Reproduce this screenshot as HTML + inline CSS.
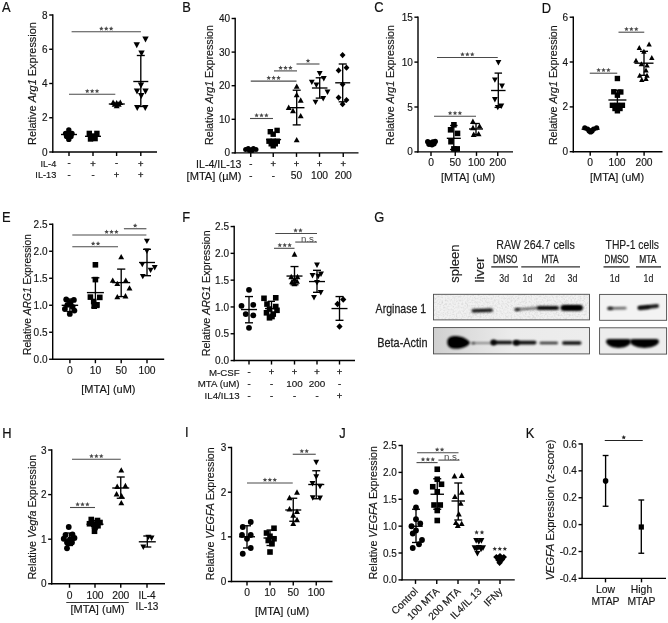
<!DOCTYPE html>
<html><head><meta charset="utf-8"><title>Figure</title>
<style>
html,body{margin:0;padding:0;background:#fff;}
body{width:668px;height:623px;overflow:hidden;}
svg{display:block;font-family:"Liberation Sans",sans-serif;filter:blur(0.3px);}
</style></head>
<body>
<svg width="668" height="623" viewBox="0 0 668 623">
<rect width="668" height="623" fill="#fff"/>
<g fill="#000">
<text transform="translate(2 12.3) scale(0.87 1)" font-size="14.8" text-anchor="start" fill="#111" stroke="#111" stroke-width="0.2">A</text>
<line x1="52.8" y1="14.3" x2="52.8" y2="152.7" stroke="#000" stroke-width="1.4" stroke-linecap="butt"/>
<line x1="52.1" y1="152" x2="157" y2="152" stroke="#000" stroke-width="1.4" stroke-linecap="butt"/>
<line x1="49.2" y1="15" x2="52.8" y2="15" stroke="#000" stroke-width="1.4" stroke-linecap="butt"/>
<text transform="translate(47.6 18.55)" font-size="10" text-anchor="end" fill="#151515" style="stroke:#151515;stroke-width:0.15px">8</text>
<line x1="49.2" y1="49.25" x2="52.8" y2="49.25" stroke="#000" stroke-width="1.4" stroke-linecap="butt"/>
<text transform="translate(47.6 52.8)" font-size="10" text-anchor="end" fill="#151515" style="stroke:#151515;stroke-width:0.15px">6</text>
<line x1="49.2" y1="83.5" x2="52.8" y2="83.5" stroke="#000" stroke-width="1.4" stroke-linecap="butt"/>
<text transform="translate(47.6 87.05)" font-size="10" text-anchor="end" fill="#151515" style="stroke:#151515;stroke-width:0.15px">4</text>
<line x1="49.2" y1="117.75" x2="52.8" y2="117.75" stroke="#000" stroke-width="1.4" stroke-linecap="butt"/>
<text transform="translate(47.6 121.3)" font-size="10" text-anchor="end" fill="#151515" style="stroke:#151515;stroke-width:0.15px">2</text>
<line x1="49.2" y1="152" x2="52.8" y2="152" stroke="#000" stroke-width="1.4" stroke-linecap="butt"/>
<text transform="translate(47.6 155.55)" font-size="10" text-anchor="end" fill="#151515" style="stroke:#151515;stroke-width:0.15px">0</text>
<line x1="69" y1="152" x2="69" y2="156" stroke="#000" stroke-width="1.4" stroke-linecap="butt"/>
<line x1="93" y1="152" x2="93" y2="156" stroke="#000" stroke-width="1.4" stroke-linecap="butt"/>
<line x1="116.6" y1="152" x2="116.6" y2="156" stroke="#000" stroke-width="1.4" stroke-linecap="butt"/>
<line x1="140.8" y1="152" x2="140.8" y2="156" stroke="#000" stroke-width="1.4" stroke-linecap="butt"/>
<text transform="translate(36.3 83.5) rotate(-90) scale(0.9959 1)" font-size="11" text-anchor="middle" fill="#151515" stroke="#151515" stroke-width="0.15">Relative <tspan font-style="italic">Arg1</tspan> Expression</text>
<circle cx="68.8" cy="130" r="2.7"/>
<circle cx="65.6" cy="133.4" r="2.7"/>
<circle cx="72" cy="133.4" r="2.7"/>
<circle cx="66.6" cy="136.4" r="2.7"/>
<circle cx="71" cy="136.4" r="2.7"/>
<circle cx="68.8" cy="139.4" r="2.7"/>
<circle cx="68.8" cy="134.5" r="2.7"/>
<line x1="61" y1="134.5" x2="77" y2="134.5" stroke="#000" stroke-width="1.35" stroke-linecap="butt"/>
<rect x="86.6" y="130.7" width="5.4" height="5.4"/>
<rect x="94.2" y="130.7" width="5.4" height="5.4"/>
<rect x="87.8" y="136.3" width="5.4" height="5.4"/>
<rect x="92.4" y="135.9" width="5.4" height="5.4"/>
<rect x="90.3" y="133.3" width="5.4" height="5.4"/>
<line x1="85" y1="136.3" x2="101" y2="136.3" stroke="#000" stroke-width="1.35" stroke-linecap="butt"/>
<path d="M110.1 104.9L116.1 104.9L113.1 99.5Z"/>
<path d="M117.3 104.9L123.3 104.9L120.3 99.5Z"/>
<path d="M113.7 108.3L119.7 108.3L116.7 102.9Z"/>
<path d="M111.7 106.7L117.7 106.7L114.7 101.3Z"/>
<path d="M115.7 106.7L121.7 106.7L118.7 101.3Z"/>
<path d="M113.7 105.3L119.7 105.3L116.7 99.9Z"/>
<line x1="108.8" y1="104" x2="124.8" y2="104" stroke="#000" stroke-width="1.35" stroke-linecap="butt"/>
<path d="M142.3 36.6L148.7 36.6L145.5 42.4Z"/>
<path d="M133.55 42.35L139.95 42.35L136.75 48.15Z"/>
<path d="M138.3 50.6L144.7 50.6L141.5 56.4Z"/>
<path d="M137.8 82.6L144.2 82.6L141 88.4Z"/>
<path d="M133.8 88.6L140.2 88.6L137 94.4Z"/>
<path d="M142.3 88.6L148.7 88.6L145.5 94.4Z"/>
<path d="M138.05 93.1L144.45 93.1L141.25 98.9Z"/>
<path d="M134.05 105.1L140.45 105.1L137.25 110.9Z"/>
<path d="M142.05 105.1L148.45 105.1L145.25 110.9Z"/>
<line x1="133.3" y1="81.5" x2="148.3" y2="81.5" stroke="#000" stroke-width="1.35" stroke-linecap="butt"/>
<line x1="140.8" y1="55.5" x2="140.8" y2="106.5" stroke="#000" stroke-width="1.35" stroke-linecap="butt"/>
<line x1="136.8" y1="55.5" x2="144.8" y2="55.5" stroke="#000" stroke-width="1.35" stroke-linecap="butt"/>
<line x1="136.8" y1="106.5" x2="144.8" y2="106.5" stroke="#000" stroke-width="1.35" stroke-linecap="butt"/>
<line x1="71.6" y1="31.8" x2="140.9" y2="31.8" stroke="#4a4a4a" stroke-width="1.1" stroke-linecap="butt"/>
<polygon points="101.35,26.3 100.7,27.81 99.07,27.96 100.3,29.04 99.94,30.64 101.35,29.8 102.76,30.64 102.4,29.04 103.63,27.96 102,27.81" fill="#4a4a4a"/>
<polygon points="106.25,26.3 105.6,27.81 103.97,27.96 105.2,29.04 104.84,30.64 106.25,29.8 107.66,30.64 107.3,29.04 108.53,27.96 106.9,27.81" fill="#4a4a4a"/>
<polygon points="111.15,26.3 110.5,27.81 108.87,27.96 110.1,29.04 109.74,30.64 111.15,29.8 112.56,30.64 112.2,29.04 113.43,27.96 111.8,27.81" fill="#4a4a4a"/>
<line x1="69" y1="94.2" x2="115.3" y2="94.2" stroke="#4a4a4a" stroke-width="1.1" stroke-linecap="butt"/>
<polygon points="87.25,88.7 86.6,90.21 84.97,90.36 86.2,91.44 85.84,93.04 87.25,92.2 88.66,93.04 88.3,91.44 89.53,90.36 87.9,90.21" fill="#4a4a4a"/>
<polygon points="92.15,88.7 91.5,90.21 89.87,90.36 91.1,91.44 90.74,93.04 92.15,92.2 93.56,93.04 93.2,91.44 94.43,90.36 92.8,90.21" fill="#4a4a4a"/>
<polygon points="97.05,88.7 96.4,90.21 94.77,90.36 96,91.44 95.64,93.04 97.05,92.2 98.46,93.04 98.1,91.44 99.33,90.36 97.7,90.21" fill="#4a4a4a"/>
<text transform="translate(56.3 166.6)" font-size="9.2" text-anchor="end" fill="#151515" style="stroke:#151515;stroke-width:0.15px">IL-4</text>
<text transform="translate(69 166.3)" font-size="9.4" text-anchor="middle" fill="#151515" style="stroke:#151515;stroke-width:0.3px">-</text>
<text transform="translate(93 166.5)" font-size="9.4" text-anchor="middle" fill="#151515" style="stroke:#151515;stroke-width:0.3px">+</text>
<text transform="translate(116.6 166.3)" font-size="9.4" text-anchor="middle" fill="#151515" style="stroke:#151515;stroke-width:0.3px">-</text>
<text transform="translate(140.8 166.5)" font-size="9.4" text-anchor="middle" fill="#151515" style="stroke:#151515;stroke-width:0.3px">+</text>
<text transform="translate(56.3 177.9)" font-size="9.2" text-anchor="end" fill="#151515" style="stroke:#151515;stroke-width:0.15px">IL-13</text>
<text transform="translate(69 177.6)" font-size="9.4" text-anchor="middle" fill="#151515" style="stroke:#151515;stroke-width:0.3px">-</text>
<text transform="translate(93 177.6)" font-size="9.4" text-anchor="middle" fill="#151515" style="stroke:#151515;stroke-width:0.3px">-</text>
<text transform="translate(116.6 177.8)" font-size="9.4" text-anchor="middle" fill="#151515" style="stroke:#151515;stroke-width:0.3px">+</text>
<text transform="translate(140.8 177.8)" font-size="9.4" text-anchor="middle" fill="#151515" style="stroke:#151515;stroke-width:0.3px">+</text>
<text transform="translate(182.3 12.3) scale(0.87 1)" font-size="14.8" text-anchor="start" fill="#111" stroke="#111" stroke-width="0.2">B</text>
<line x1="235.2" y1="17.8" x2="235.2" y2="153.6" stroke="#000" stroke-width="1.4" stroke-linecap="butt"/>
<line x1="234.5" y1="152.9" x2="358.5" y2="152.9" stroke="#000" stroke-width="1.4" stroke-linecap="butt"/>
<line x1="231.6" y1="18.5" x2="235.2" y2="18.5" stroke="#000" stroke-width="1.4" stroke-linecap="butt"/>
<text transform="translate(230 22.05)" font-size="10" text-anchor="end" fill="#151515" style="stroke:#151515;stroke-width:0.15px">40</text>
<line x1="231.6" y1="52.1" x2="235.2" y2="52.1" stroke="#000" stroke-width="1.4" stroke-linecap="butt"/>
<text transform="translate(230 55.65)" font-size="10" text-anchor="end" fill="#151515" style="stroke:#151515;stroke-width:0.15px">30</text>
<line x1="231.6" y1="85.7" x2="235.2" y2="85.7" stroke="#000" stroke-width="1.4" stroke-linecap="butt"/>
<text transform="translate(230 89.25)" font-size="10" text-anchor="end" fill="#151515" style="stroke:#151515;stroke-width:0.15px">20</text>
<line x1="231.6" y1="119.3" x2="235.2" y2="119.3" stroke="#000" stroke-width="1.4" stroke-linecap="butt"/>
<text transform="translate(230 122.85)" font-size="10" text-anchor="end" fill="#151515" style="stroke:#151515;stroke-width:0.15px">10</text>
<line x1="231.6" y1="152.9" x2="235.2" y2="152.9" stroke="#000" stroke-width="1.4" stroke-linecap="butt"/>
<text transform="translate(230 156.45)" font-size="10" text-anchor="end" fill="#151515" style="stroke:#151515;stroke-width:0.15px">0</text>
<line x1="250.75" y1="152.9" x2="250.75" y2="156.9" stroke="#000" stroke-width="1.4" stroke-linecap="butt"/>
<line x1="273.25" y1="152.9" x2="273.25" y2="156.9" stroke="#000" stroke-width="1.4" stroke-linecap="butt"/>
<line x1="296.5" y1="152.9" x2="296.5" y2="156.9" stroke="#000" stroke-width="1.4" stroke-linecap="butt"/>
<line x1="319.5" y1="152.9" x2="319.5" y2="156.9" stroke="#000" stroke-width="1.4" stroke-linecap="butt"/>
<line x1="343.25" y1="152.9" x2="343.25" y2="156.9" stroke="#000" stroke-width="1.4" stroke-linecap="butt"/>
<text transform="translate(213.41 85) rotate(-90) scale(0.9716 1)" font-size="11" text-anchor="middle" fill="#151515" stroke="#151515" stroke-width="0.15">Relative <tspan font-style="italic">Arg1</tspan> Expression</text>
<circle cx="245.6" cy="149.6" r="2.5"/>
<circle cx="248.2" cy="148.6" r="2.5"/>
<circle cx="250.8" cy="149.8" r="2.5"/>
<circle cx="253.4" cy="148.6" r="2.5"/>
<circle cx="256" cy="149.6" r="2.5"/>
<circle cx="249.4" cy="150.6" r="2.5"/>
<circle cx="252.2" cy="150.6" r="2.5"/>
<line x1="244.3" y1="149.8" x2="257.3" y2="149.8" stroke="#000" stroke-width="1.35" stroke-linecap="butt"/>
<rect x="267.6" y="129" width="5.4" height="5.4"/>
<rect x="274.4" y="127.7" width="5.4" height="5.4"/>
<rect x="270.5" y="131.5" width="5.4" height="5.4"/>
<rect x="266.3" y="138.5" width="5.4" height="5.4"/>
<rect x="270.5" y="138.5" width="5.4" height="5.4"/>
<rect x="274.6" y="138.5" width="5.4" height="5.4"/>
<rect x="268.5" y="141.1" width="5.4" height="5.4"/>
<rect x="272.6" y="141.1" width="5.4" height="5.4"/>
<rect x="270.5" y="143.1" width="5.4" height="5.4"/>
<line x1="266.1" y1="139.6" x2="281.1" y2="139.6" stroke="#000" stroke-width="1.35" stroke-linecap="butt"/>
<path d="M293.75 88.8L299.65 88.8L296.7 83.4Z"/>
<path d="M293.75 97.3L299.65 97.3L296.7 91.9Z"/>
<path d="M297.75 102.7L303.65 102.7L300.7 97.3Z"/>
<path d="M285.75 110L291.65 110L288.7 104.6Z"/>
<path d="M290.05 113.2L295.95 113.2L293 107.8Z"/>
<path d="M297.75 118.3L303.65 118.3L300.7 112.9Z"/>
<path d="M293.75 142.3L299.65 142.3L296.7 136.9Z"/>
<line x1="288.95" y1="107.7" x2="304.45" y2="107.7" stroke="#000" stroke-width="1.35" stroke-linecap="butt"/>
<line x1="296.7" y1="90.2" x2="296.7" y2="124.9" stroke="#000" stroke-width="1.35" stroke-linecap="butt"/>
<line x1="292.7" y1="90.2" x2="300.7" y2="90.2" stroke="#000" stroke-width="1.35" stroke-linecap="butt"/>
<line x1="292.7" y1="124.9" x2="300.7" y2="124.9" stroke="#000" stroke-width="1.35" stroke-linecap="butt"/>
<path d="M316.75 71.1L322.65 71.1L319.7 76.5Z"/>
<path d="M308.85 79.7L314.75 79.7L311.8 85.1Z"/>
<path d="M320.85 76L326.75 76L323.8 81.4Z"/>
<path d="M313.45 82.5L319.35 82.5L316.4 87.9Z"/>
<path d="M324.55 89.5L330.45 89.5L327.5 94.9Z"/>
<path d="M320.25 96L326.15 96L323.2 101.4Z"/>
<path d="M312.55 99.7L318.45 99.7L315.5 105.1Z"/>
<line x1="311.95" y1="88" x2="327.45" y2="88" stroke="#000" stroke-width="1.35" stroke-linecap="butt"/>
<line x1="319.7" y1="77.8" x2="319.7" y2="98.1" stroke="#000" stroke-width="1.35" stroke-linecap="butt"/>
<line x1="315.7" y1="77.8" x2="323.7" y2="77.8" stroke="#000" stroke-width="1.35" stroke-linecap="butt"/>
<line x1="315.7" y1="98.1" x2="323.7" y2="98.1" stroke="#000" stroke-width="1.35" stroke-linecap="butt"/>
<path d="M339.7 55.1L342.6 52L345.5 55.1L342.6 58.2Z"/>
<path d="M343.6 67.7L346.5 64.6L349.4 67.7L346.5 70.8Z"/>
<path d="M335.7 70.4L338.6 67.3L341.5 70.4L338.6 73.5Z"/>
<path d="M339.7 84.3L342.6 81.2L345.5 84.3L342.6 87.4Z"/>
<path d="M335.7 97.6L338.6 94.5L341.5 97.6L338.6 100.7Z"/>
<path d="M343.6 100L346.5 96.9L349.4 100L346.5 103.1Z"/>
<path d="M339.7 104.2L342.6 101.1L345.5 104.2L342.6 107.3Z"/>
<line x1="335.2" y1="82.8" x2="350.2" y2="82.8" stroke="#000" stroke-width="1.35" stroke-linecap="butt"/>
<line x1="342.7" y1="64" x2="342.7" y2="101.8" stroke="#000" stroke-width="1.35" stroke-linecap="butt"/>
<line x1="338.7" y1="64" x2="346.7" y2="64" stroke="#000" stroke-width="1.35" stroke-linecap="butt"/>
<line x1="338.7" y1="101.8" x2="346.7" y2="101.8" stroke="#000" stroke-width="1.35" stroke-linecap="butt"/>
<line x1="250" y1="118.5" x2="273" y2="118.5" stroke="#4a4a4a" stroke-width="1.1" stroke-linecap="butt"/>
<polygon points="256.6,113 255.95,114.51 254.32,114.66 255.55,115.74 255.19,117.34 256.6,116.5 258.01,117.34 257.65,115.74 258.88,114.66 257.25,114.51" fill="#4a4a4a"/>
<polygon points="261.5,113 260.85,114.51 259.22,114.66 260.45,115.74 260.09,117.34 261.5,116.5 262.91,117.34 262.55,115.74 263.78,114.66 262.15,114.51" fill="#4a4a4a"/>
<polygon points="266.4,113 265.75,114.51 264.12,114.66 265.35,115.74 264.99,117.34 266.4,116.5 267.81,117.34 267.45,115.74 268.68,114.66 267.05,114.51" fill="#4a4a4a"/>
<line x1="250.75" y1="81.1" x2="296.5" y2="81.1" stroke="#4a4a4a" stroke-width="1.1" stroke-linecap="butt"/>
<polygon points="268.73,75.6 268.08,77.11 266.44,77.26 267.68,78.34 267.31,79.94 268.73,79.1 270.14,79.94 269.77,78.34 271.01,77.26 269.37,77.11" fill="#4a4a4a"/>
<polygon points="273.62,75.6 272.98,77.11 271.34,77.26 272.58,78.34 272.21,79.94 273.62,79.1 275.04,79.94 274.67,78.34 275.91,77.26 274.27,77.11" fill="#4a4a4a"/>
<polygon points="278.53,75.6 277.88,77.11 276.24,77.26 277.48,78.34 277.11,79.94 278.53,79.1 279.94,79.94 279.57,78.34 280.81,77.26 279.17,77.11" fill="#4a4a4a"/>
<line x1="274" y1="70.9" x2="297" y2="70.9" stroke="#4a4a4a" stroke-width="1.1" stroke-linecap="butt"/>
<polygon points="280.6,65.4 279.95,66.91 278.32,67.06 279.55,68.14 279.19,69.74 280.6,68.9 282.01,69.74 281.65,68.14 282.88,67.06 281.25,66.91" fill="#4a4a4a"/>
<polygon points="285.5,65.4 284.85,66.91 283.22,67.06 284.45,68.14 284.09,69.74 285.5,68.9 286.91,69.74 286.55,68.14 287.78,67.06 286.15,66.91" fill="#4a4a4a"/>
<polygon points="290.4,65.4 289.75,66.91 288.12,67.06 289.35,68.14 288.99,69.74 290.4,68.9 291.81,69.74 291.45,68.14 292.68,67.06 291.05,66.91" fill="#4a4a4a"/>
<line x1="296.5" y1="64" x2="319.5" y2="64" stroke="#4a4a4a" stroke-width="1.1" stroke-linecap="butt"/>
<polygon points="308,58.5 307.35,60.01 305.72,60.16 306.95,61.24 306.59,62.84 308,62 309.41,62.84 309.05,61.24 310.28,60.16 308.65,60.01" fill="#4a4a4a"/>
<text transform="translate(241.5 167.9) scale(0.9842 1)" font-size="10.8" text-anchor="end" fill="#151515" style="stroke:#151515;stroke-width:0.15px">IL-4/IL-13</text>
<text transform="translate(241.5 180.3) scale(1.0297 1)" font-size="10.8" text-anchor="end" fill="#151515" style="stroke:#151515;stroke-width:0.15px">[MTA] (µM)</text>
<text transform="translate(250.75 167.2)" font-size="9.4" text-anchor="middle" fill="#151515" style="stroke:#151515;stroke-width:0.3px">-</text>
<text transform="translate(250.75 179)" font-size="9.4" text-anchor="middle" fill="#151515" style="stroke:#151515;stroke-width:0.3px">-</text>
<text transform="translate(273.25 167.2)" font-size="9.4" text-anchor="middle" fill="#151515" style="stroke:#151515;stroke-width:0.3px">+</text>
<text transform="translate(273.25 179)" font-size="9.4" text-anchor="middle" fill="#151515" style="stroke:#151515;stroke-width:0.3px">-</text>
<text transform="translate(296.5 167.2)" font-size="9.4" text-anchor="middle" fill="#151515" style="stroke:#151515;stroke-width:0.3px">+</text>
<text transform="translate(296.5 178.9)" font-size="10.3" text-anchor="middle" fill="#151515" style="stroke:#151515;stroke-width:0.15px">50</text>
<text transform="translate(319.5 167.2)" font-size="9.4" text-anchor="middle" fill="#151515" style="stroke:#151515;stroke-width:0.3px">+</text>
<text transform="translate(319.5 178.9)" font-size="10.3" text-anchor="middle" fill="#151515" style="stroke:#151515;stroke-width:0.15px">100</text>
<text transform="translate(343.25 167.2)" font-size="9.4" text-anchor="middle" fill="#151515" style="stroke:#151515;stroke-width:0.3px">+</text>
<text transform="translate(343.25 178.9)" font-size="10.3" text-anchor="middle" fill="#151515" style="stroke:#151515;stroke-width:0.15px">200</text>
<text transform="translate(374.3 12.3) scale(0.87 1)" font-size="14.8" text-anchor="start" fill="#111" stroke="#111" stroke-width="0.2">C</text>
<line x1="418" y1="16.5" x2="418" y2="152.6" stroke="#000" stroke-width="1.4" stroke-linecap="butt"/>
<line x1="417.3" y1="151.9" x2="513" y2="151.9" stroke="#000" stroke-width="1.4" stroke-linecap="butt"/>
<line x1="414.4" y1="17.2" x2="418" y2="17.2" stroke="#000" stroke-width="1.4" stroke-linecap="butt"/>
<text transform="translate(412.8 20.75)" font-size="10" text-anchor="end" fill="#151515" style="stroke:#151515;stroke-width:0.15px">15</text>
<line x1="414.4" y1="62.1" x2="418" y2="62.1" stroke="#000" stroke-width="1.4" stroke-linecap="butt"/>
<text transform="translate(412.8 65.65)" font-size="10" text-anchor="end" fill="#151515" style="stroke:#151515;stroke-width:0.15px">10</text>
<line x1="414.4" y1="107" x2="418" y2="107" stroke="#000" stroke-width="1.4" stroke-linecap="butt"/>
<text transform="translate(412.8 110.55)" font-size="10" text-anchor="end" fill="#151515" style="stroke:#151515;stroke-width:0.15px">5</text>
<line x1="414.4" y1="151.9" x2="418" y2="151.9" stroke="#000" stroke-width="1.4" stroke-linecap="butt"/>
<text transform="translate(412.8 155.45)" font-size="10" text-anchor="end" fill="#151515" style="stroke:#151515;stroke-width:0.15px">0</text>
<line x1="431" y1="151.9" x2="431" y2="155.9" stroke="#000" stroke-width="1.4" stroke-linecap="butt"/>
<line x1="455.25" y1="151.9" x2="455.25" y2="155.9" stroke="#000" stroke-width="1.4" stroke-linecap="butt"/>
<line x1="476.5" y1="151.9" x2="476.5" y2="155.9" stroke="#000" stroke-width="1.4" stroke-linecap="butt"/>
<line x1="497.75" y1="151.9" x2="497.75" y2="155.9" stroke="#000" stroke-width="1.4" stroke-linecap="butt"/>
<text transform="translate(393.9 85) rotate(-90) scale(0.9716 1)" font-size="11" text-anchor="middle" fill="#151515" stroke="#151515" stroke-width="0.15">Relative <tspan font-style="italic">Arg1</tspan> Expression</text>
<circle cx="427.75" cy="141.75" r="2.7"/>
<circle cx="430.25" cy="143" r="2.7"/>
<circle cx="432.75" cy="142" r="2.7"/>
<circle cx="435.25" cy="141.5" r="2.7"/>
<circle cx="429" cy="144.25" r="2.7"/>
<circle cx="432" cy="144.75" r="2.7"/>
<circle cx="434" cy="143.75" r="2.7"/>
<rect x="451.1" y="122" width="5.6" height="5.6"/>
<rect x="447.8" y="127" width="5.6" height="5.6"/>
<rect x="454.7" y="130.6" width="5.6" height="5.6"/>
<rect x="448.2" y="138.9" width="5.6" height="5.6"/>
<rect x="451.1" y="146.1" width="5.6" height="5.6"/>
<rect x="454.4" y="146.1" width="5.6" height="5.6"/>
<line x1="446.8" y1="138.3" x2="460.8" y2="138.3" stroke="#000" stroke-width="1.35" stroke-linecap="butt"/>
<line x1="453.8" y1="125.5" x2="453.8" y2="149.5" stroke="#000" stroke-width="1.35" stroke-linecap="butt"/>
<line x1="450.05" y1="125.5" x2="457.55" y2="125.5" stroke="#000" stroke-width="1.35" stroke-linecap="butt"/>
<line x1="450.05" y1="149.5" x2="457.55" y2="149.5" stroke="#000" stroke-width="1.35" stroke-linecap="butt"/>
<path d="M469.95 123.9L475.85 123.9L472.9 118.5Z"/>
<path d="M476.65 128.6L482.55 128.6L479.6 123.2Z"/>
<path d="M470.05 130.2L475.95 130.2L473 124.8Z"/>
<path d="M470.75 136.9L476.65 136.9L473.7 131.5Z"/>
<path d="M475.65 136.3L481.55 136.3L478.6 130.9Z"/>
<line x1="469" y1="129" x2="483" y2="129" stroke="#000" stroke-width="1.35" stroke-linecap="butt"/>
<line x1="476" y1="123.5" x2="476" y2="134.5" stroke="#000" stroke-width="1.35" stroke-linecap="butt"/>
<line x1="472.25" y1="123.5" x2="479.75" y2="123.5" stroke="#000" stroke-width="1.35" stroke-linecap="butt"/>
<line x1="472.25" y1="134.5" x2="479.75" y2="134.5" stroke="#000" stroke-width="1.35" stroke-linecap="butt"/>
<path d="M495.45 60L501.35 60L498.4 65.4Z"/>
<path d="M491.95 77.4L497.85 77.4L494.9 82.8Z"/>
<path d="M499.05 83.5L504.95 83.5L502 88.9Z"/>
<path d="M491.95 97L497.85 97L494.9 102.4Z"/>
<path d="M498.35 103.6L504.25 103.6L501.3 109Z"/>
<path d="M494.85 104.9L500.75 104.9L497.8 110.3Z"/>
<line x1="491.05" y1="90.5" x2="505.55" y2="90.5" stroke="#000" stroke-width="1.35" stroke-linecap="butt"/>
<line x1="498.3" y1="73.1" x2="498.3" y2="107.4" stroke="#000" stroke-width="1.35" stroke-linecap="butt"/>
<line x1="494.55" y1="73.1" x2="502.05" y2="73.1" stroke="#000" stroke-width="1.35" stroke-linecap="butt"/>
<line x1="494.55" y1="107.4" x2="502.05" y2="107.4" stroke="#000" stroke-width="1.35" stroke-linecap="butt"/>
<line x1="434" y1="116.25" x2="476" y2="116.25" stroke="#4a4a4a" stroke-width="1.1" stroke-linecap="butt"/>
<polygon points="450.1,110.75 449.45,112.26 447.82,112.41 449.05,113.49 448.69,115.09 450.1,114.25 451.51,115.09 451.15,113.49 452.38,112.41 450.75,112.26" fill="#4a4a4a"/>
<polygon points="455,110.75 454.35,112.26 452.72,112.41 453.95,113.49 453.59,115.09 455,114.25 456.41,115.09 456.05,113.49 457.28,112.41 455.65,112.26" fill="#4a4a4a"/>
<polygon points="459.9,110.75 459.25,112.26 457.62,112.41 458.85,113.49 458.49,115.09 459.9,114.25 461.31,115.09 460.95,113.49 462.18,112.41 460.55,112.26" fill="#4a4a4a"/>
<line x1="437" y1="57.5" x2="497.75" y2="57.5" stroke="#4a4a4a" stroke-width="1.1" stroke-linecap="butt"/>
<polygon points="462.48,52 461.83,53.51 460.19,53.66 461.43,54.74 461.06,56.34 462.48,55.5 463.89,56.34 463.52,54.74 464.76,53.66 463.12,53.51" fill="#4a4a4a"/>
<polygon points="467.38,52 466.73,53.51 465.09,53.66 466.33,54.74 465.96,56.34 467.38,55.5 468.79,56.34 468.42,54.74 469.66,53.66 468.02,53.51" fill="#4a4a4a"/>
<polygon points="472.28,52 471.63,53.51 469.99,53.66 471.23,54.74 470.86,56.34 472.28,55.5 473.69,56.34 473.32,54.74 474.56,53.66 472.92,53.51" fill="#4a4a4a"/>
<text transform="translate(431 166)" font-size="10.3" text-anchor="middle" fill="#151515" style="stroke:#151515;stroke-width:0.15px">0</text>
<text transform="translate(455.25 166)" font-size="10.3" text-anchor="middle" fill="#151515" style="stroke:#151515;stroke-width:0.15px">50</text>
<text transform="translate(476.5 166)" font-size="10.3" text-anchor="middle" fill="#151515" style="stroke:#151515;stroke-width:0.15px">100</text>
<text transform="translate(497.75 166)" font-size="10.3" text-anchor="middle" fill="#151515" style="stroke:#151515;stroke-width:0.15px">200</text>
<text transform="translate(468 180.6)" font-size="11" text-anchor="middle" fill="#151515" style="stroke:#151515;stroke-width:0.15px">[MTA] (uM)</text>
<g transform="translate(0 0.2)">
<text transform="translate(541.8 12.3) scale(0.87 1)" font-size="14.8" text-anchor="start" fill="#111" stroke="#111" stroke-width="0.2">D</text>
<line x1="573.3" y1="16.3" x2="573.3" y2="152.2" stroke="#000" stroke-width="1.4" stroke-linecap="butt"/>
<line x1="572.6" y1="151.5" x2="662.5" y2="151.5" stroke="#000" stroke-width="1.4" stroke-linecap="butt"/>
<line x1="569.7" y1="17" x2="573.3" y2="17" stroke="#000" stroke-width="1.4" stroke-linecap="butt"/>
<text transform="translate(568.1 20.55)" font-size="10" text-anchor="end" fill="#151515" style="stroke:#151515;stroke-width:0.15px">6</text>
<line x1="569.7" y1="61.8" x2="573.3" y2="61.8" stroke="#000" stroke-width="1.4" stroke-linecap="butt"/>
<text transform="translate(568.1 65.35)" font-size="10" text-anchor="end" fill="#151515" style="stroke:#151515;stroke-width:0.15px">4</text>
<line x1="569.7" y1="106.7" x2="573.3" y2="106.7" stroke="#000" stroke-width="1.4" stroke-linecap="butt"/>
<text transform="translate(568.1 110.25)" font-size="10" text-anchor="end" fill="#151515" style="stroke:#151515;stroke-width:0.15px">2</text>
<line x1="569.7" y1="151.5" x2="573.3" y2="151.5" stroke="#000" stroke-width="1.4" stroke-linecap="butt"/>
<text transform="translate(568.1 155.05)" font-size="10" text-anchor="end" fill="#151515" style="stroke:#151515;stroke-width:0.15px">0</text>
<line x1="590.2" y1="151.5" x2="590.2" y2="155.5" stroke="#000" stroke-width="1.4" stroke-linecap="butt"/>
<line x1="617.2" y1="151.5" x2="617.2" y2="155.5" stroke="#000" stroke-width="1.4" stroke-linecap="butt"/>
<line x1="644.1" y1="151.5" x2="644.1" y2="155.5" stroke="#000" stroke-width="1.4" stroke-linecap="butt"/>
<text transform="translate(556.7 85) rotate(-90) scale(0.9716 1)" font-size="11" text-anchor="middle" fill="#151515" stroke="#151515" stroke-width="0.15">Relative <tspan font-style="italic">Arg1</tspan> Expression</text>
<circle cx="584.8" cy="127.6" r="2.6"/>
<circle cx="587.6" cy="128.8" r="2.6"/>
<circle cx="590.6" cy="130.6" r="2.6"/>
<circle cx="593.6" cy="128.8" r="2.6"/>
<circle cx="596.6" cy="127.6" r="2.6"/>
<circle cx="589.2" cy="130.8" r="2.6"/>
<circle cx="592" cy="130.8" r="2.6"/>
<circle cx="590.6" cy="131.8" r="2.6"/>
<line x1="581.6" y1="129" x2="599.6" y2="129" stroke="#000" stroke-width="1.35" stroke-linecap="butt"/>
<rect x="614.7" y="75.6" width="5.4" height="5.4"/>
<rect x="611.1" y="88.9" width="5.4" height="5.4"/>
<rect x="618.1" y="89.1" width="5.4" height="5.4"/>
<rect x="614.7" y="92.3" width="5.4" height="5.4"/>
<rect x="609.7" y="102.4" width="5.4" height="5.4"/>
<rect x="614.7" y="102.4" width="5.4" height="5.4"/>
<rect x="619.7" y="102.4" width="5.4" height="5.4"/>
<rect x="612.3" y="105.6" width="5.4" height="5.4"/>
<rect x="617.3" y="105.6" width="5.4" height="5.4"/>
<rect x="614.7" y="107.9" width="5.4" height="5.4"/>
<line x1="608.4" y1="99.8" x2="626.4" y2="99.8" stroke="#000" stroke-width="1.35" stroke-linecap="butt"/>
<line x1="617.4" y1="90" x2="617.4" y2="109" stroke="#000" stroke-width="1.35" stroke-linecap="butt"/>
<line x1="613.4" y1="90" x2="621.4" y2="90" stroke="#000" stroke-width="1.35" stroke-linecap="butt"/>
<line x1="613.4" y1="109" x2="621.4" y2="109" stroke="#000" stroke-width="1.35" stroke-linecap="butt"/>
<path d="M646.4 46.3L651.8 46.3L649.1 41.3Z"/>
<path d="M636.6 49.9L642 49.9L639.3 44.9Z"/>
<path d="M641.2 53.6L646.6 53.6L643.9 48.6Z"/>
<path d="M649.1 59.9L654.5 59.9L651.8 54.9Z"/>
<path d="M633.3 62.6L638.7 62.6L636 57.6Z"/>
<path d="M638.7 66.1L644.1 66.1L641.4 61.1Z"/>
<path d="M644.3 67.2L649.7 67.2L647 62.2Z"/>
<path d="M643.3 72.4L648.7 72.4L646 67.4Z"/>
<path d="M637 77.6L642.4 77.6L639.7 72.6Z"/>
<path d="M644.3 77.6L649.7 77.6L647 72.6Z"/>
<path d="M639.1 81.8L644.5 81.8L641.8 76.8Z"/>
<path d="M643.3 80.8L648.7 80.8L646 75.8Z"/>
<line x1="634.5" y1="63" x2="653.5" y2="63" stroke="#000" stroke-width="1.35" stroke-linecap="butt"/>
<line x1="644" y1="51.1" x2="644" y2="75.1" stroke="#000" stroke-width="1.35" stroke-linecap="butt"/>
<line x1="640" y1="51.1" x2="648" y2="51.1" stroke="#000" stroke-width="1.35" stroke-linecap="butt"/>
<line x1="640" y1="75.1" x2="648" y2="75.1" stroke="#000" stroke-width="1.35" stroke-linecap="butt"/>
<line x1="589.75" y1="73" x2="617.25" y2="73" stroke="#4a4a4a" stroke-width="1.1" stroke-linecap="butt"/>
<polygon points="598.6,67.5 597.95,69.01 596.32,69.16 597.55,70.24 597.19,71.84 598.6,71 600.01,71.84 599.65,70.24 600.88,69.16 599.25,69.01" fill="#4a4a4a"/>
<polygon points="603.5,67.5 602.85,69.01 601.22,69.16 602.45,70.24 602.09,71.84 603.5,71 604.91,71.84 604.55,70.24 605.78,69.16 604.15,69.01" fill="#4a4a4a"/>
<polygon points="608.4,67.5 607.75,69.01 606.12,69.16 607.35,70.24 606.99,71.84 608.4,71 609.81,71.84 609.45,70.24 610.68,69.16 609.05,69.01" fill="#4a4a4a"/>
<line x1="618.5" y1="32" x2="644.25" y2="32" stroke="#4a4a4a" stroke-width="1.1" stroke-linecap="butt"/>
<polygon points="626.48,26.5 625.83,28.01 624.19,28.16 625.43,29.24 625.06,30.84 626.48,30 627.89,30.84 627.52,29.24 628.76,28.16 627.12,28.01" fill="#4a4a4a"/>
<polygon points="631.38,26.5 630.73,28.01 629.09,28.16 630.33,29.24 629.96,30.84 631.38,30 632.79,30.84 632.42,29.24 633.66,28.16 632.02,28.01" fill="#4a4a4a"/>
<polygon points="636.27,26.5 635.63,28.01 633.99,28.16 635.23,29.24 634.86,30.84 636.27,30 637.69,30.84 637.32,29.24 638.56,28.16 636.92,28.01" fill="#4a4a4a"/>
<text transform="translate(590 166)" font-size="10.3" text-anchor="middle" fill="#151515" style="stroke:#151515;stroke-width:0.15px">0</text>
<text transform="translate(617 166)" font-size="10.3" text-anchor="middle" fill="#151515" style="stroke:#151515;stroke-width:0.15px">100</text>
<text transform="translate(644 166)" font-size="10.3" text-anchor="middle" fill="#151515" style="stroke:#151515;stroke-width:0.15px">200</text>
<text transform="translate(617 180.6)" font-size="11" text-anchor="middle" fill="#151515" style="stroke:#151515;stroke-width:0.15px">[MTA] (uM)</text>
</g>
<text transform="translate(2 222.1) scale(0.87 1)" font-size="14.8" text-anchor="start" fill="#111" stroke="#111" stroke-width="0.2">E</text>
<line x1="52.7" y1="223.55" x2="52.7" y2="359.95" stroke="#000" stroke-width="1.4" stroke-linecap="butt"/>
<line x1="52" y1="359.25" x2="164.2" y2="359.25" stroke="#000" stroke-width="1.4" stroke-linecap="butt"/>
<line x1="49.1" y1="224.25" x2="52.7" y2="224.25" stroke="#000" stroke-width="1.4" stroke-linecap="butt"/>
<text transform="translate(47.5 227.8)" font-size="10" text-anchor="end" fill="#151515" style="stroke:#151515;stroke-width:0.15px">2.5</text>
<line x1="49.1" y1="251.25" x2="52.7" y2="251.25" stroke="#000" stroke-width="1.4" stroke-linecap="butt"/>
<text transform="translate(47.5 254.8)" font-size="10" text-anchor="end" fill="#151515" style="stroke:#151515;stroke-width:0.15px">2.0</text>
<line x1="49.1" y1="278.25" x2="52.7" y2="278.25" stroke="#000" stroke-width="1.4" stroke-linecap="butt"/>
<text transform="translate(47.5 281.8)" font-size="10" text-anchor="end" fill="#151515" style="stroke:#151515;stroke-width:0.15px">1.5</text>
<line x1="49.1" y1="305.25" x2="52.7" y2="305.25" stroke="#000" stroke-width="1.4" stroke-linecap="butt"/>
<text transform="translate(47.5 308.8)" font-size="10" text-anchor="end" fill="#151515" style="stroke:#151515;stroke-width:0.15px">1.0</text>
<line x1="49.1" y1="332.25" x2="52.7" y2="332.25" stroke="#000" stroke-width="1.4" stroke-linecap="butt"/>
<text transform="translate(47.5 335.8)" font-size="10" text-anchor="end" fill="#151515" style="stroke:#151515;stroke-width:0.15px">0.5</text>
<line x1="49.1" y1="359.25" x2="52.7" y2="359.25" stroke="#000" stroke-width="1.4" stroke-linecap="butt"/>
<text transform="translate(47.5 362.8)" font-size="10" text-anchor="end" fill="#151515" style="stroke:#151515;stroke-width:0.15px">0.0</text>
<line x1="69.9" y1="359.25" x2="69.9" y2="363.25" stroke="#000" stroke-width="1.4" stroke-linecap="butt"/>
<line x1="95.4" y1="359.25" x2="95.4" y2="363.25" stroke="#000" stroke-width="1.4" stroke-linecap="butt"/>
<line x1="121.2" y1="359.25" x2="121.2" y2="363.25" stroke="#000" stroke-width="1.4" stroke-linecap="butt"/>
<line x1="147" y1="359.25" x2="147" y2="363.25" stroke="#000" stroke-width="1.4" stroke-linecap="butt"/>
<text transform="translate(30.91 294.5) rotate(-90) scale(0.9292 1)" font-size="11" text-anchor="middle" fill="#151515" stroke="#151515" stroke-width="0.15">Relative <tspan font-style="italic">ARG1</tspan> Expression</text>
<circle cx="66.2" cy="299.4" r="2.9"/>
<circle cx="73.9" cy="299.9" r="2.9"/>
<circle cx="64.9" cy="309" r="2.9"/>
<circle cx="74.4" cy="310.6" r="2.9"/>
<circle cx="69.8" cy="313.9" r="2.9"/>
<circle cx="70.6" cy="302.5" r="2.9"/>
<circle cx="67.4" cy="304.8" r="2.9"/>
<circle cx="72.6" cy="306.8" r="2.9"/>
<line x1="61.65" y1="305.3" x2="78.15" y2="305.3" stroke="#000" stroke-width="1.35" stroke-linecap="butt"/>
<line x1="69.9" y1="299" x2="69.9" y2="311.5" stroke="#000" stroke-width="1.35" stroke-linecap="butt"/>
<line x1="66.4" y1="299" x2="73.4" y2="299" stroke="#000" stroke-width="1.35" stroke-linecap="butt"/>
<line x1="66.4" y1="311.5" x2="73.4" y2="311.5" stroke="#000" stroke-width="1.35" stroke-linecap="butt"/>
<rect x="92.6" y="262" width="5.6" height="5.6"/>
<rect x="92.6" y="276.8" width="5.6" height="5.6"/>
<rect x="87.6" y="294.3" width="5.6" height="5.6"/>
<rect x="97" y="294.6" width="5.6" height="5.6"/>
<rect x="90.9" y="298.7" width="5.6" height="5.6"/>
<rect x="94.2" y="302" width="5.6" height="5.6"/>
<rect x="91.4" y="303.4" width="5.6" height="5.6"/>
<line x1="86.9" y1="292.6" x2="103.9" y2="292.6" stroke="#000" stroke-width="1.35" stroke-linecap="butt"/>
<line x1="95.4" y1="277.8" x2="95.4" y2="307.5" stroke="#000" stroke-width="1.35" stroke-linecap="butt"/>
<line x1="91.4" y1="277.8" x2="99.4" y2="277.8" stroke="#000" stroke-width="1.35" stroke-linecap="butt"/>
<line x1="91.4" y1="307.5" x2="99.4" y2="307.5" stroke="#000" stroke-width="1.35" stroke-linecap="butt"/>
<path d="M118.25 259.3L124.15 259.3L121.2 253.9Z"/>
<path d="M109.75 282.8L115.65 282.8L112.7 277.4Z"/>
<path d="M122.85 282.8L128.75 282.8L125.8 277.4Z"/>
<path d="M114.35 286.1L120.25 286.1L117.3 280.7Z"/>
<path d="M126.55 290.6L132.45 290.6L129.5 285.2Z"/>
<path d="M114.35 299.3L120.25 299.3L117.3 293.9Z"/>
<path d="M122.55 298.5L128.45 298.5L125.5 293.1Z"/>
<line x1="112.2" y1="282.6" x2="130.2" y2="282.6" stroke="#000" stroke-width="1.35" stroke-linecap="butt"/>
<line x1="121.2" y1="269.1" x2="121.2" y2="296.6" stroke="#000" stroke-width="1.35" stroke-linecap="butt"/>
<line x1="117.1" y1="269.1" x2="125.3" y2="269.1" stroke="#000" stroke-width="1.35" stroke-linecap="butt"/>
<line x1="117.1" y1="296.6" x2="125.3" y2="296.6" stroke="#000" stroke-width="1.35" stroke-linecap="butt"/>
<path d="M143.95 238.7L149.85 238.7L146.9 244.1Z"/>
<path d="M143.95 248.5L149.85 248.5L146.9 253.9Z"/>
<path d="M151.75 265.1L157.65 265.1L154.7 270.5Z"/>
<path d="M147.65 267.7L153.55 267.7L150.6 273.1Z"/>
<path d="M139.35 261.9L145.25 261.9L142.3 267.3Z"/>
<path d="M139.85 273.9L145.75 273.9L142.8 279.3Z"/>
<line x1="139" y1="262.5" x2="155" y2="262.5" stroke="#000" stroke-width="1.35" stroke-linecap="butt"/>
<line x1="147" y1="249.3" x2="147" y2="275.7" stroke="#000" stroke-width="1.35" stroke-linecap="butt"/>
<line x1="143" y1="249.3" x2="151" y2="249.3" stroke="#000" stroke-width="1.35" stroke-linecap="butt"/>
<line x1="143" y1="275.7" x2="151" y2="275.7" stroke="#000" stroke-width="1.35" stroke-linecap="butt"/>
<line x1="123.9" y1="228.75" x2="146.4" y2="228.75" stroke="#4a4a4a" stroke-width="1.1" stroke-linecap="butt"/>
<polygon points="135.15,223.25 134.5,224.76 132.87,224.91 134.1,225.99 133.74,227.59 135.15,226.75 136.56,227.59 136.2,225.99 137.43,224.91 135.8,224.76" fill="#4a4a4a"/>
<line x1="72.3" y1="235" x2="146.4" y2="235" stroke="#4a4a4a" stroke-width="1.1" stroke-linecap="butt"/>
<polygon points="106.6,229.5 105.95,231.01 104.32,231.16 105.55,232.24 105.19,233.84 106.6,233 108.01,233.84 107.65,232.24 108.88,231.16 107.25,231.01" fill="#4a4a4a"/>
<polygon points="111.5,229.5 110.85,231.01 109.22,231.16 110.45,232.24 110.09,233.84 111.5,233 112.91,233.84 112.55,232.24 113.78,231.16 112.15,231.01" fill="#4a4a4a"/>
<polygon points="116.4,229.5 115.75,231.01 114.12,231.16 115.35,232.24 114.99,233.84 116.4,233 117.81,233.84 117.45,232.24 118.68,231.16 117.05,231.01" fill="#4a4a4a"/>
<line x1="72.3" y1="246.75" x2="118" y2="246.75" stroke="#4a4a4a" stroke-width="1.1" stroke-linecap="butt"/>
<polygon points="93.15,241.25 92.5,242.76 90.87,242.91 92.1,243.99 91.74,245.59 93.15,244.75 94.56,245.59 94.2,243.99 95.43,242.91 93.8,242.76" fill="#4a4a4a"/>
<polygon points="98.05,241.25 97.4,242.76 95.77,242.91 97,243.99 96.64,245.59 98.05,244.75 99.46,245.59 99.1,243.99 100.33,242.91 98.7,242.76" fill="#4a4a4a"/>
<text transform="translate(69.9 373.5)" font-size="10.3" text-anchor="middle" fill="#151515" style="stroke:#151515;stroke-width:0.15px">0</text>
<text transform="translate(95.4 373.5)" font-size="10.3" text-anchor="middle" fill="#151515" style="stroke:#151515;stroke-width:0.15px">10</text>
<text transform="translate(121.2 373.5)" font-size="10.3" text-anchor="middle" fill="#151515" style="stroke:#151515;stroke-width:0.15px">50</text>
<text transform="translate(147 373.5)" font-size="10.3" text-anchor="middle" fill="#151515" style="stroke:#151515;stroke-width:0.15px">100</text>
<text transform="translate(108.4 393)" font-size="11" text-anchor="middle" fill="#151515" style="stroke:#151515;stroke-width:0.15px">[MTA] (uM)</text>
<g transform="translate(0 0.3)">
<text transform="translate(182.3 222.1) scale(0.87 1)" font-size="14.8" text-anchor="start" fill="#111" stroke="#111" stroke-width="0.2">F</text>
<line x1="234.2" y1="225.55" x2="234.2" y2="360.95" stroke="#000" stroke-width="1.4" stroke-linecap="butt"/>
<line x1="233.5" y1="360.25" x2="355" y2="360.25" stroke="#000" stroke-width="1.4" stroke-linecap="butt"/>
<line x1="230.6" y1="226.25" x2="234.2" y2="226.25" stroke="#000" stroke-width="1.4" stroke-linecap="butt"/>
<text transform="translate(229 229.8)" font-size="10" text-anchor="end" fill="#151515" style="stroke:#151515;stroke-width:0.15px">2.5</text>
<line x1="230.6" y1="253.05" x2="234.2" y2="253.05" stroke="#000" stroke-width="1.4" stroke-linecap="butt"/>
<text transform="translate(229 256.6)" font-size="10" text-anchor="end" fill="#151515" style="stroke:#151515;stroke-width:0.15px">2.0</text>
<line x1="230.6" y1="279.85" x2="234.2" y2="279.85" stroke="#000" stroke-width="1.4" stroke-linecap="butt"/>
<text transform="translate(229 283.4)" font-size="10" text-anchor="end" fill="#151515" style="stroke:#151515;stroke-width:0.15px">1.5</text>
<line x1="230.6" y1="306.65" x2="234.2" y2="306.65" stroke="#000" stroke-width="1.4" stroke-linecap="butt"/>
<text transform="translate(229 310.2)" font-size="10" text-anchor="end" fill="#151515" style="stroke:#151515;stroke-width:0.15px">1.0</text>
<line x1="230.6" y1="333.45" x2="234.2" y2="333.45" stroke="#000" stroke-width="1.4" stroke-linecap="butt"/>
<text transform="translate(229 337)" font-size="10" text-anchor="end" fill="#151515" style="stroke:#151515;stroke-width:0.15px">0.5</text>
<line x1="230.6" y1="360.25" x2="234.2" y2="360.25" stroke="#000" stroke-width="1.4" stroke-linecap="butt"/>
<text transform="translate(229 363.8)" font-size="10" text-anchor="end" fill="#151515" style="stroke:#151515;stroke-width:0.15px">0.0</text>
<line x1="249" y1="360.25" x2="249" y2="364.25" stroke="#000" stroke-width="1.4" stroke-linecap="butt"/>
<line x1="271.5" y1="360.25" x2="271.5" y2="364.25" stroke="#000" stroke-width="1.4" stroke-linecap="butt"/>
<line x1="294.5" y1="360.25" x2="294.5" y2="364.25" stroke="#000" stroke-width="1.4" stroke-linecap="butt"/>
<line x1="317" y1="360.25" x2="317" y2="364.25" stroke="#000" stroke-width="1.4" stroke-linecap="butt"/>
<line x1="339.5" y1="360.25" x2="339.5" y2="364.25" stroke="#000" stroke-width="1.4" stroke-linecap="butt"/>
<text transform="translate(209.5 293) rotate(-90) scale(0.9676 1)" font-size="11" text-anchor="middle" fill="#151515" stroke="#151515" stroke-width="0.15">Relative <tspan font-style="italic">ARG1</tspan> Expression</text>
<circle cx="249" cy="289.5" r="2.9"/>
<circle cx="241.5" cy="305.5" r="2.9"/>
<circle cx="253.25" cy="304.5" r="2.9"/>
<circle cx="245.75" cy="313.75" r="2.9"/>
<circle cx="253.25" cy="315" r="2.9"/>
<circle cx="249" cy="327.5" r="2.9"/>
<line x1="241" y1="309.25" x2="257" y2="309.25" stroke="#000" stroke-width="1.35" stroke-linecap="butt"/>
<line x1="249" y1="296.25" x2="249" y2="322.5" stroke="#000" stroke-width="1.35" stroke-linecap="butt"/>
<line x1="245" y1="296.25" x2="253" y2="296.25" stroke="#000" stroke-width="1.35" stroke-linecap="butt"/>
<line x1="245" y1="322.5" x2="253" y2="322.5" stroke="#000" stroke-width="1.35" stroke-linecap="butt"/>
<rect x="261.2" y="295.2" width="5.6" height="5.6"/>
<rect x="272.95" y="294.7" width="5.6" height="5.6"/>
<rect x="264.2" y="300.95" width="5.6" height="5.6"/>
<rect x="272.95" y="303.45" width="5.6" height="5.6"/>
<rect x="266.7" y="305.95" width="5.6" height="5.6"/>
<rect x="274.2" y="307.2" width="5.6" height="5.6"/>
<rect x="263.7" y="309.7" width="5.6" height="5.6"/>
<rect x="270.45" y="310.95" width="5.6" height="5.6"/>
<rect x="266.7" y="314.7" width="5.6" height="5.6"/>
<rect x="269.2" y="313.45" width="5.6" height="5.6"/>
<line x1="265" y1="308.25" x2="278" y2="308.25" stroke="#000" stroke-width="1.35" stroke-linecap="butt"/>
<line x1="271.5" y1="301" x2="271.5" y2="316" stroke="#000" stroke-width="1.35" stroke-linecap="butt"/>
<line x1="268" y1="301" x2="275" y2="301" stroke="#000" stroke-width="1.35" stroke-linecap="butt"/>
<line x1="268" y1="316" x2="275" y2="316" stroke="#000" stroke-width="1.35" stroke-linecap="butt"/>
<path d="M291.6 256.45L297.4 256.45L294.5 251.05Z"/>
<path d="M288.35 278.95L294.15 278.95L291.25 273.55Z"/>
<path d="M294.6 278.95L300.4 278.95L297.5 273.55Z"/>
<path d="M291.6 281.45L297.4 281.45L294.5 276.05Z"/>
<path d="M289.1 283.95L294.9 283.95L292 278.55Z"/>
<path d="M294.1 283.45L299.9 283.45L297 278.05Z"/>
<path d="M291.6 285.95L297.4 285.95L294.5 280.55Z"/>
<line x1="286.5" y1="275.75" x2="302.5" y2="275.75" stroke="#000" stroke-width="1.35" stroke-linecap="butt"/>
<line x1="294.5" y1="266.25" x2="294.5" y2="284.5" stroke="#000" stroke-width="1.35" stroke-linecap="butt"/>
<line x1="290.5" y1="266.25" x2="298.5" y2="266.25" stroke="#000" stroke-width="1.35" stroke-linecap="butt"/>
<line x1="290.5" y1="284.5" x2="298.5" y2="284.5" stroke="#000" stroke-width="1.35" stroke-linecap="butt"/>
<path d="M314.05 262.3L319.95 262.3L317 267.7Z"/>
<path d="M309.55 272.8L315.45 272.8L312.5 278.2Z"/>
<path d="M318.05 271.3L323.95 271.3L321 276.7Z"/>
<path d="M314.05 279.8L319.95 279.8L317 285.2Z"/>
<path d="M317.8 289.8L323.7 289.8L320.75 295.2Z"/>
<path d="M311.05 294.8L316.95 294.8L314 300.2Z"/>
<path d="M315.3 273.55L321.2 273.55L318.25 278.95Z"/>
<line x1="309" y1="281.25" x2="325" y2="281.25" stroke="#000" stroke-width="1.35" stroke-linecap="butt"/>
<line x1="317" y1="270" x2="317" y2="292" stroke="#000" stroke-width="1.35" stroke-linecap="butt"/>
<line x1="313" y1="270" x2="321" y2="270" stroke="#000" stroke-width="1.35" stroke-linecap="butt"/>
<line x1="313" y1="292" x2="321" y2="292" stroke="#000" stroke-width="1.35" stroke-linecap="butt"/>
<path d="M340.15 299.25L343.25 295.95L346.35 299.25L343.25 302.55Z"/>
<path d="M334.4 303.75L337.5 300.45L340.6 303.75L337.5 307.05Z"/>
<path d="M336.4 326.25L339.5 322.95L342.6 326.25L339.5 329.55Z"/>
<line x1="331.5" y1="308.25" x2="347.5" y2="308.25" stroke="#000" stroke-width="1.35" stroke-linecap="butt"/>
<line x1="339.5" y1="296.25" x2="339.5" y2="320" stroke="#000" stroke-width="1.35" stroke-linecap="butt"/>
<line x1="335.5" y1="296.25" x2="343.5" y2="296.25" stroke="#000" stroke-width="1.35" stroke-linecap="butt"/>
<line x1="335.5" y1="320" x2="343.5" y2="320" stroke="#000" stroke-width="1.35" stroke-linecap="butt"/>
<line x1="275.25" y1="233.25" x2="317" y2="233.25" stroke="#4a4a4a" stroke-width="1.1" stroke-linecap="butt"/>
<polygon points="295.55,227.75 294.9,229.26 293.27,229.41 294.5,230.49 294.14,232.09 295.55,231.25 296.96,232.09 296.6,230.49 297.83,229.41 296.2,229.26" fill="#4a4a4a"/>
<polygon points="300.45,227.75 299.8,229.26 298.17,229.41 299.4,230.49 299.04,232.09 300.45,231.25 301.86,232.09 301.5,230.49 302.73,229.41 301.1,229.26" fill="#4a4a4a"/>
<line x1="295.25" y1="241.75" x2="317" y2="241.75" stroke="#4a4a4a" stroke-width="1.1" stroke-linecap="butt"/>
<text transform="translate(308.8 241.35) scale(1.0296 1)" font-size="9.4" text-anchor="middle" fill="#4a4a4a">n.s.</text>
<line x1="274" y1="248" x2="294.5" y2="248" stroke="#4a4a4a" stroke-width="1.1" stroke-linecap="butt"/>
<polygon points="279.8,242.5 279.15,244.01 277.52,244.16 278.75,245.24 278.39,246.84 279.8,246 281.21,246.84 280.85,245.24 282.08,244.16 280.45,244.01" fill="#4a4a4a"/>
<polygon points="284.7,242.5 284.05,244.01 282.42,244.16 283.65,245.24 283.29,246.84 284.7,246 286.11,246.84 285.75,245.24 286.98,244.16 285.35,244.01" fill="#4a4a4a"/>
<polygon points="289.6,242.5 288.95,244.01 287.32,244.16 288.55,245.24 288.19,246.84 289.6,246 291.01,246.84 290.65,245.24 291.88,244.16 290.25,244.01" fill="#4a4a4a"/>
<text transform="translate(239.6 375.2)" font-size="9.7" text-anchor="end" fill="#151515" style="stroke:#151515;stroke-width:0.15px">M-CSF</text>
<text transform="translate(249 374.9)" font-size="9.4" text-anchor="middle" fill="#151515" style="stroke:#151515;stroke-width:0.3px">-</text>
<text transform="translate(271.5 374.9)" font-size="9.4" text-anchor="middle" fill="#151515" style="stroke:#151515;stroke-width:0.3px">+</text>
<text transform="translate(294.5 374.9)" font-size="9.4" text-anchor="middle" fill="#151515" style="stroke:#151515;stroke-width:0.3px">+</text>
<text transform="translate(317 374.9)" font-size="9.4" text-anchor="middle" fill="#151515" style="stroke:#151515;stroke-width:0.3px">+</text>
<text transform="translate(339.5 374.9)" font-size="9.4" text-anchor="middle" fill="#151515" style="stroke:#151515;stroke-width:0.3px">+</text>
<text transform="translate(239.6 387)" font-size="9.7" text-anchor="end" fill="#151515" style="stroke:#151515;stroke-width:0.15px">MTA (uM)</text>
<text transform="translate(249 386.7)" font-size="9.4" text-anchor="middle" fill="#151515" style="stroke:#151515;stroke-width:0.3px">-</text>
<text transform="translate(271.5 386.7)" font-size="9.4" text-anchor="middle" fill="#151515" style="stroke:#151515;stroke-width:0.3px">-</text>
<text transform="translate(294.5 386.4)" font-size="9.9" text-anchor="middle" fill="#151515" style="stroke:#151515;stroke-width:0.15px">100</text>
<text transform="translate(317 386.4)" font-size="9.9" text-anchor="middle" fill="#151515" style="stroke:#151515;stroke-width:0.15px">200</text>
<text transform="translate(339.5 386.7)" font-size="9.4" text-anchor="middle" fill="#151515" style="stroke:#151515;stroke-width:0.3px">-</text>
<text transform="translate(239.6 398.7)" font-size="9.7" text-anchor="end" fill="#151515" style="stroke:#151515;stroke-width:0.15px">IL4/IL13</text>
<text transform="translate(249 398.4)" font-size="9.4" text-anchor="middle" fill="#151515" style="stroke:#151515;stroke-width:0.3px">-</text>
<text transform="translate(271.5 398.4)" font-size="9.4" text-anchor="middle" fill="#151515" style="stroke:#151515;stroke-width:0.3px">-</text>
<text transform="translate(294.5 398.4)" font-size="9.4" text-anchor="middle" fill="#151515" style="stroke:#151515;stroke-width:0.3px">-</text>
<text transform="translate(317 398.4)" font-size="9.4" text-anchor="middle" fill="#151515" style="stroke:#151515;stroke-width:0.3px">-</text>
<text transform="translate(339.5 398.4)" font-size="9.4" text-anchor="middle" fill="#151515" style="stroke:#151515;stroke-width:0.3px">+</text>
</g>
<text transform="translate(2.3 437.8) scale(0.87 1)" font-size="14.8" text-anchor="start" fill="#111" stroke="#111" stroke-width="0.2">H</text>
<line x1="51.75" y1="449.3" x2="51.75" y2="584.45" stroke="#000" stroke-width="1.4" stroke-linecap="butt"/>
<line x1="51.05" y1="583.75" x2="165" y2="583.75" stroke="#000" stroke-width="1.4" stroke-linecap="butt"/>
<line x1="48.15" y1="450" x2="51.75" y2="450" stroke="#000" stroke-width="1.4" stroke-linecap="butt"/>
<text transform="translate(46.55 453.55)" font-size="10" text-anchor="end" fill="#151515" style="stroke:#151515;stroke-width:0.15px">3</text>
<line x1="48.15" y1="494.6" x2="51.75" y2="494.6" stroke="#000" stroke-width="1.4" stroke-linecap="butt"/>
<text transform="translate(46.55 498.15)" font-size="10" text-anchor="end" fill="#151515" style="stroke:#151515;stroke-width:0.15px">2</text>
<line x1="48.15" y1="539.2" x2="51.75" y2="539.2" stroke="#000" stroke-width="1.4" stroke-linecap="butt"/>
<text transform="translate(46.55 542.75)" font-size="10" text-anchor="end" fill="#151515" style="stroke:#151515;stroke-width:0.15px">1</text>
<line x1="48.15" y1="583.75" x2="51.75" y2="583.75" stroke="#000" stroke-width="1.4" stroke-linecap="butt"/>
<text transform="translate(46.55 587.3)" font-size="10" text-anchor="end" fill="#151515" style="stroke:#151515;stroke-width:0.15px">0</text>
<line x1="69.5" y1="583.75" x2="69.5" y2="587.75" stroke="#000" stroke-width="1.4" stroke-linecap="butt"/>
<line x1="95" y1="583.75" x2="95" y2="587.75" stroke="#000" stroke-width="1.4" stroke-linecap="butt"/>
<line x1="120.75" y1="583.75" x2="120.75" y2="587.75" stroke="#000" stroke-width="1.4" stroke-linecap="butt"/>
<line x1="147" y1="583.75" x2="147" y2="587.75" stroke="#000" stroke-width="1.4" stroke-linecap="butt"/>
<text transform="translate(35.6 517.2) rotate(-90) scale(0.9719 1)" font-size="11" text-anchor="middle" fill="#151515" stroke="#151515" stroke-width="0.15">Relative <tspan font-style="italic">Vegfa</tspan> Expression</text>
<circle cx="68.75" cy="527" r="2.9"/>
<circle cx="65.5" cy="535" r="2.9"/>
<circle cx="72.5" cy="534.5" r="2.9"/>
<circle cx="63.75" cy="538.75" r="2.9"/>
<circle cx="70" cy="539.5" r="2.9"/>
<circle cx="74.5" cy="538" r="2.9"/>
<circle cx="67" cy="542.5" r="2.9"/>
<circle cx="72" cy="542.5" r="2.9"/>
<circle cx="67" cy="548.25" r="2.9"/>
<line x1="63" y1="539.25" x2="76" y2="539.25" stroke="#000" stroke-width="1.35" stroke-linecap="butt"/>
<line x1="69.5" y1="533" x2="69.5" y2="545.5" stroke="#000" stroke-width="1.35" stroke-linecap="butt"/>
<line x1="66" y1="533" x2="73" y2="533" stroke="#000" stroke-width="1.35" stroke-linecap="butt"/>
<line x1="66" y1="545.5" x2="73" y2="545.5" stroke="#000" stroke-width="1.35" stroke-linecap="butt"/>
<rect x="88.45" y="516.7" width="5.6" height="5.6"/>
<rect x="94.7" y="517.7" width="5.6" height="5.6"/>
<rect x="97.2" y="519.7" width="5.6" height="5.6"/>
<rect x="86.7" y="520.95" width="5.6" height="5.6"/>
<rect x="90.95" y="521.7" width="5.6" height="5.6"/>
<rect x="95.2" y="522.95" width="5.6" height="5.6"/>
<rect x="92.2" y="524.7" width="5.6" height="5.6"/>
<rect x="91.7" y="528.45" width="5.6" height="5.6"/>
<line x1="86.5" y1="524.25" x2="103.5" y2="524.25" stroke="#000" stroke-width="1.35" stroke-linecap="butt"/>
<line x1="95" y1="520.5" x2="95" y2="528" stroke="#000" stroke-width="1.35" stroke-linecap="butt"/>
<line x1="91.5" y1="520.5" x2="98.5" y2="520.5" stroke="#000" stroke-width="1.35" stroke-linecap="butt"/>
<line x1="91.5" y1="528" x2="98.5" y2="528" stroke="#000" stroke-width="1.35" stroke-linecap="butt"/>
<path d="M118.35 472.6L124.25 472.6L121.3 467.2Z"/>
<path d="M114.25 488.9L120.15 488.9L117.2 483.5Z"/>
<path d="M122.45 488.2L128.35 488.2L125.4 482.8Z"/>
<path d="M113.65 496.5L119.55 496.5L116.6 491.1Z"/>
<path d="M118.65 498.3L124.55 498.3L121.6 492.9Z"/>
<path d="M118.35 505.3L124.25 505.3L121.3 499.9Z"/>
<line x1="112.25" y1="488" x2="129.25" y2="488" stroke="#000" stroke-width="1.35" stroke-linecap="butt"/>
<line x1="120.75" y1="477" x2="120.75" y2="498.25" stroke="#000" stroke-width="1.35" stroke-linecap="butt"/>
<line x1="116.75" y1="477" x2="124.75" y2="477" stroke="#000" stroke-width="1.35" stroke-linecap="butt"/>
<line x1="116.75" y1="498.25" x2="124.75" y2="498.25" stroke="#000" stroke-width="1.35" stroke-linecap="butt"/>
<path d="M148.65 535.5L154.55 535.5L151.6 540.9Z"/>
<path d="M145.45 534.7L151.35 534.7L148.4 540.1Z"/>
<path d="M140.35 544.5L146.25 544.5L143.3 549.9Z"/>
<line x1="138.8" y1="541.8" x2="155.8" y2="541.8" stroke="#000" stroke-width="1.35" stroke-linecap="butt"/>
<line x1="147.3" y1="536" x2="147.3" y2="547" stroke="#000" stroke-width="1.35" stroke-linecap="butt"/>
<line x1="143.3" y1="536" x2="151.3" y2="536" stroke="#000" stroke-width="1.35" stroke-linecap="butt"/>
<line x1="143.3" y1="547" x2="151.3" y2="547" stroke="#000" stroke-width="1.35" stroke-linecap="butt"/>
<line x1="72" y1="459.25" x2="120.75" y2="459.25" stroke="#4a4a4a" stroke-width="1.1" stroke-linecap="butt"/>
<polygon points="91.47,453.75 90.83,455.26 89.19,455.41 90.43,456.49 90.06,458.09 91.47,457.25 92.89,458.09 92.52,456.49 93.76,455.41 92.12,455.26" fill="#4a4a4a"/>
<polygon points="96.38,453.75 95.73,455.26 94.09,455.41 95.33,456.49 94.96,458.09 96.38,457.25 97.79,458.09 97.42,456.49 98.66,455.41 97.02,455.26" fill="#4a4a4a"/>
<polygon points="101.27,453.75 100.63,455.26 98.99,455.41 100.23,456.49 99.86,458.09 101.27,457.25 102.69,458.09 102.32,456.49 103.56,455.41 101.92,455.26" fill="#4a4a4a"/>
<line x1="70" y1="507.5" x2="95" y2="507.5" stroke="#4a4a4a" stroke-width="1.1" stroke-linecap="butt"/>
<polygon points="77.6,502 76.95,503.51 75.32,503.66 76.55,504.74 76.19,506.34 77.6,505.5 79.01,506.34 78.65,504.74 79.88,503.66 78.25,503.51" fill="#4a4a4a"/>
<polygon points="82.5,502 81.85,503.51 80.22,503.66 81.45,504.74 81.09,506.34 82.5,505.5 83.91,506.34 83.55,504.74 84.78,503.66 83.15,503.51" fill="#4a4a4a"/>
<polygon points="87.4,502 86.75,503.51 85.12,503.66 86.35,504.74 85.99,506.34 87.4,505.5 88.81,506.34 88.45,504.74 89.68,503.66 88.05,503.51" fill="#4a4a4a"/>
<text transform="translate(69.5 598.8)" font-size="10.3" text-anchor="middle" fill="#151515" style="stroke:#151515;stroke-width:0.15px">0</text>
<text transform="translate(95 598.8)" font-size="10.3" text-anchor="middle" fill="#151515" style="stroke:#151515;stroke-width:0.15px">100</text>
<text transform="translate(120.75 598.8)" font-size="10.3" text-anchor="middle" fill="#151515" style="stroke:#151515;stroke-width:0.15px">200</text>
<line x1="66.25" y1="602.5" x2="128.75" y2="602.5" stroke="#222" stroke-width="0.9" stroke-linecap="butt"/>
<text transform="translate(97.5 612.6)" font-size="11" text-anchor="middle" fill="#151515" style="stroke:#151515;stroke-width:0.15px">[MTA] (uM)</text>
<text transform="translate(147 598.6)" font-size="10" text-anchor="middle" fill="#151515" style="stroke:#151515;stroke-width:0.15px">IL-4</text>
<text transform="translate(147 610.2)" font-size="10" text-anchor="middle" fill="#151515" style="stroke:#151515;stroke-width:0.15px">IL-13</text>
<text transform="translate(185 437.2) scale(0.87 1)" font-size="14.8" text-anchor="start" fill="#111" stroke="#111" stroke-width="0.2">I</text>
<line x1="231.5" y1="446.8" x2="231.5" y2="582.2" stroke="#000" stroke-width="1.4" stroke-linecap="butt"/>
<line x1="230.8" y1="581.5" x2="332.5" y2="581.5" stroke="#000" stroke-width="1.4" stroke-linecap="butt"/>
<line x1="227.9" y1="447.5" x2="231.5" y2="447.5" stroke="#000" stroke-width="1.4" stroke-linecap="butt"/>
<text transform="translate(226.3 451.05)" font-size="10" text-anchor="end" fill="#151515" style="stroke:#151515;stroke-width:0.15px">3</text>
<line x1="227.9" y1="492.2" x2="231.5" y2="492.2" stroke="#000" stroke-width="1.4" stroke-linecap="butt"/>
<text transform="translate(226.3 495.75)" font-size="10" text-anchor="end" fill="#151515" style="stroke:#151515;stroke-width:0.15px">2</text>
<line x1="227.9" y1="536.85" x2="231.5" y2="536.85" stroke="#000" stroke-width="1.4" stroke-linecap="butt"/>
<text transform="translate(226.3 540.4)" font-size="10" text-anchor="end" fill="#151515" style="stroke:#151515;stroke-width:0.15px">1</text>
<line x1="227.9" y1="581.5" x2="231.5" y2="581.5" stroke="#000" stroke-width="1.4" stroke-linecap="butt"/>
<text transform="translate(226.3 585.05)" font-size="10" text-anchor="end" fill="#151515" style="stroke:#151515;stroke-width:0.15px">0</text>
<line x1="247" y1="581.5" x2="247" y2="585.5" stroke="#000" stroke-width="1.4" stroke-linecap="butt"/>
<line x1="270" y1="581.5" x2="270" y2="585.5" stroke="#000" stroke-width="1.4" stroke-linecap="butt"/>
<line x1="293.25" y1="581.5" x2="293.25" y2="585.5" stroke="#000" stroke-width="1.4" stroke-linecap="butt"/>
<line x1="316.25" y1="581.5" x2="316.25" y2="585.5" stroke="#000" stroke-width="1.4" stroke-linecap="butt"/>
<text transform="translate(214.31 513.8) rotate(-90) scale(0.9726 1)" font-size="11" text-anchor="middle" fill="#151515" stroke="#151515" stroke-width="0.15">Relative <tspan font-style="italic">VEGFA</tspan> Expression</text>
<circle cx="250.75" cy="522" r="2.9"/>
<circle cx="242.75" cy="527" r="2.9"/>
<circle cx="242" cy="535" r="2.9"/>
<circle cx="250.75" cy="535" r="2.9"/>
<circle cx="247" cy="538.75" r="2.9"/>
<circle cx="250.75" cy="548" r="2.9"/>
<circle cx="242.75" cy="553.75" r="2.9"/>
<line x1="239" y1="536.75" x2="255" y2="536.75" stroke="#000" stroke-width="1.35" stroke-linecap="butt"/>
<line x1="247" y1="525.75" x2="247" y2="548" stroke="#000" stroke-width="1.35" stroke-linecap="butt"/>
<line x1="243" y1="525.75" x2="251" y2="525.75" stroke="#000" stroke-width="1.35" stroke-linecap="butt"/>
<line x1="243" y1="548" x2="251" y2="548" stroke="#000" stroke-width="1.35" stroke-linecap="butt"/>
<rect x="271.2" y="525.45" width="5.6" height="5.6"/>
<rect x="263.7" y="530.2" width="5.6" height="5.6"/>
<rect x="267.2" y="533.45" width="5.6" height="5.6"/>
<rect x="271.2" y="535.95" width="5.6" height="5.6"/>
<rect x="265.45" y="537.7" width="5.6" height="5.6"/>
<rect x="269.2" y="540.95" width="5.6" height="5.6"/>
<rect x="267.2" y="549.2" width="5.6" height="5.6"/>
<line x1="263.5" y1="538" x2="276.5" y2="538" stroke="#000" stroke-width="1.35" stroke-linecap="butt"/>
<line x1="270" y1="530" x2="270" y2="545.5" stroke="#000" stroke-width="1.35" stroke-linecap="butt"/>
<line x1="266.5" y1="530" x2="273.5" y2="530" stroke="#000" stroke-width="1.35" stroke-linecap="butt"/>
<line x1="266.5" y1="545.5" x2="273.5" y2="545.5" stroke="#000" stroke-width="1.35" stroke-linecap="butt"/>
<path d="M294.05 494.7L299.95 494.7L297 489.3Z"/>
<path d="M286.55 500.2L292.45 500.2L289.5 494.8Z"/>
<path d="M294.05 513.95L299.95 513.95L297 508.55Z"/>
<path d="M286.55 511.45L292.45 511.45L289.5 506.05Z"/>
<path d="M290.3 517.7L296.2 517.7L293.25 512.3Z"/>
<path d="M294.05 522.2L299.95 522.2L297 516.8Z"/>
<path d="M290.3 525.95L296.2 525.95L293.25 520.55Z"/>
<line x1="285.25" y1="510" x2="301.25" y2="510" stroke="#000" stroke-width="1.35" stroke-linecap="butt"/>
<line x1="293.25" y1="498.25" x2="293.25" y2="521.25" stroke="#000" stroke-width="1.35" stroke-linecap="butt"/>
<line x1="289.25" y1="498.25" x2="297.25" y2="498.25" stroke="#000" stroke-width="1.35" stroke-linecap="butt"/>
<line x1="289.25" y1="521.25" x2="297.25" y2="521.25" stroke="#000" stroke-width="1.35" stroke-linecap="butt"/>
<path d="M313.3 459.8L319.2 459.8L316.25 465.2Z"/>
<path d="M313.3 474.3L319.2 474.3L316.25 479.7Z"/>
<path d="M317.05 483.8L322.95 483.8L320 489.2Z"/>
<path d="M309.8 495.3L315.7 495.3L312.75 500.7Z"/>
<path d="M317.05 495.55L322.95 495.55L320 500.95Z"/>
<path d="M309.55 481.05L315.45 481.05L312.5 486.45Z"/>
<line x1="308.25" y1="484.5" x2="324.25" y2="484.5" stroke="#000" stroke-width="1.35" stroke-linecap="butt"/>
<line x1="316.25" y1="470.75" x2="316.25" y2="498.75" stroke="#000" stroke-width="1.35" stroke-linecap="butt"/>
<line x1="312.25" y1="470.75" x2="320.25" y2="470.75" stroke="#000" stroke-width="1.35" stroke-linecap="butt"/>
<line x1="312.25" y1="498.75" x2="320.25" y2="498.75" stroke="#000" stroke-width="1.35" stroke-linecap="butt"/>
<line x1="247" y1="483" x2="292.75" y2="483" stroke="#4a4a4a" stroke-width="1.1" stroke-linecap="butt"/>
<polygon points="264.98,477.5 264.33,479.01 262.69,479.16 263.93,480.24 263.56,481.84 264.98,481 266.39,481.84 266.02,480.24 267.26,479.16 265.62,479.01" fill="#4a4a4a"/>
<polygon points="269.88,477.5 269.23,479.01 267.59,479.16 268.83,480.24 268.46,481.84 269.88,481 271.29,481.84 270.92,480.24 272.16,479.16 270.52,479.01" fill="#4a4a4a"/>
<polygon points="274.78,477.5 274.13,479.01 272.49,479.16 273.73,480.24 273.36,481.84 274.78,481 276.19,481.84 275.82,480.24 277.06,479.16 275.42,479.01" fill="#4a4a4a"/>
<line x1="292.75" y1="454.25" x2="315.75" y2="454.25" stroke="#4a4a4a" stroke-width="1.1" stroke-linecap="butt"/>
<polygon points="301.8,448.75 301.15,450.26 299.52,450.41 300.75,451.49 300.39,453.09 301.8,452.25 303.21,453.09 302.85,451.49 304.08,450.41 302.45,450.26" fill="#4a4a4a"/>
<polygon points="306.7,448.75 306.05,450.26 304.42,450.41 305.65,451.49 305.29,453.09 306.7,452.25 308.11,453.09 307.75,451.49 308.98,450.41 307.35,450.26" fill="#4a4a4a"/>
<text transform="translate(247 596.3)" font-size="10.3" text-anchor="middle" fill="#151515" style="stroke:#151515;stroke-width:0.15px">0</text>
<text transform="translate(270 596.3)" font-size="10.3" text-anchor="middle" fill="#151515" style="stroke:#151515;stroke-width:0.15px">10</text>
<text transform="translate(293.25 596.3)" font-size="10.3" text-anchor="middle" fill="#151515" style="stroke:#151515;stroke-width:0.15px">50</text>
<text transform="translate(316.25 596.3)" font-size="10.3" text-anchor="middle" fill="#151515" style="stroke:#151515;stroke-width:0.15px">100</text>
<text transform="translate(282 615)" font-size="11" text-anchor="middle" fill="#151515" style="stroke:#151515;stroke-width:0.15px">[MTA] (uM)</text>
<g transform="translate(0 0.5)">
<text transform="translate(339.3 437.8) scale(0.87 1)" font-size="14.8" text-anchor="start" fill="#111" stroke="#111" stroke-width="0.2">J</text>
<line x1="402.1" y1="444.3" x2="402.1" y2="580.1" stroke="#000" stroke-width="1.4" stroke-linecap="butt"/>
<line x1="401.4" y1="579.4" x2="514.75" y2="579.4" stroke="#000" stroke-width="1.4" stroke-linecap="butt"/>
<line x1="398.5" y1="445" x2="402.1" y2="445" stroke="#000" stroke-width="1.4" stroke-linecap="butt"/>
<text transform="translate(396.9 448.55)" font-size="10" text-anchor="end" fill="#151515" style="stroke:#151515;stroke-width:0.15px">2.5</text>
<line x1="398.5" y1="471.9" x2="402.1" y2="471.9" stroke="#000" stroke-width="1.4" stroke-linecap="butt"/>
<text transform="translate(396.9 475.45)" font-size="10" text-anchor="end" fill="#151515" style="stroke:#151515;stroke-width:0.15px">2.0</text>
<line x1="398.5" y1="498.75" x2="402.1" y2="498.75" stroke="#000" stroke-width="1.4" stroke-linecap="butt"/>
<text transform="translate(396.9 502.3)" font-size="10" text-anchor="end" fill="#151515" style="stroke:#151515;stroke-width:0.15px">1.5</text>
<line x1="398.5" y1="525.65" x2="402.1" y2="525.65" stroke="#000" stroke-width="1.4" stroke-linecap="butt"/>
<text transform="translate(396.9 529.2)" font-size="10" text-anchor="end" fill="#151515" style="stroke:#151515;stroke-width:0.15px">1.0</text>
<line x1="398.5" y1="552.5" x2="402.1" y2="552.5" stroke="#000" stroke-width="1.4" stroke-linecap="butt"/>
<text transform="translate(396.9 556.05)" font-size="10" text-anchor="end" fill="#151515" style="stroke:#151515;stroke-width:0.15px">0.5</text>
<line x1="398.5" y1="579.4" x2="402.1" y2="579.4" stroke="#000" stroke-width="1.4" stroke-linecap="butt"/>
<text transform="translate(396.9 582.95)" font-size="10" text-anchor="end" fill="#151515" style="stroke:#151515;stroke-width:0.15px">0.0</text>
<line x1="415.5" y1="579.4" x2="415.5" y2="583.4" stroke="#000" stroke-width="1.4" stroke-linecap="butt"/>
<line x1="436.75" y1="579.4" x2="436.75" y2="583.4" stroke="#000" stroke-width="1.4" stroke-linecap="butt"/>
<line x1="458" y1="579.4" x2="458" y2="583.4" stroke="#000" stroke-width="1.4" stroke-linecap="butt"/>
<line x1="479" y1="579.4" x2="479" y2="583.4" stroke="#000" stroke-width="1.4" stroke-linecap="butt"/>
<line x1="500" y1="579.4" x2="500" y2="583.4" stroke="#000" stroke-width="1.4" stroke-linecap="butt"/>
<text transform="translate(376.9 512.2) rotate(-90) scale(0.9763 1)" font-size="11" text-anchor="middle" fill="#151515" stroke="#151515" stroke-width="0.15">Relative <tspan font-style="italic">VEGFA</tspan> Expression</text>
<circle cx="416" cy="491.25" r="2.9"/>
<circle cx="416" cy="507" r="2.9"/>
<circle cx="416" cy="518.75" r="2.9"/>
<circle cx="420.25" cy="523" r="2.9"/>
<circle cx="411.5" cy="525.75" r="2.9"/>
<circle cx="416" cy="530" r="2.9"/>
<circle cx="412.75" cy="533" r="2.9"/>
<circle cx="422" cy="539.5" r="2.9"/>
<circle cx="419" cy="543.75" r="2.9"/>
<circle cx="412.75" cy="547.5" r="2.9"/>
<line x1="409.25" y1="525.75" x2="422.75" y2="525.75" stroke="#000" stroke-width="1.35" stroke-linecap="butt"/>
<line x1="416" y1="508.75" x2="416" y2="542" stroke="#000" stroke-width="1.35" stroke-linecap="butt"/>
<line x1="412" y1="508.75" x2="420" y2="508.75" stroke="#000" stroke-width="1.35" stroke-linecap="butt"/>
<line x1="412" y1="542" x2="420" y2="542" stroke="#000" stroke-width="1.35" stroke-linecap="butt"/>
<rect x="434.45" y="465.95" width="5.6" height="5.6"/>
<rect x="434.45" y="475.95" width="5.6" height="5.6"/>
<rect x="438.7" y="480.95" width="5.6" height="5.6"/>
<rect x="429.95" y="483.45" width="5.6" height="5.6"/>
<rect x="434.45" y="488.45" width="5.6" height="5.6"/>
<rect x="431.2" y="501.7" width="5.6" height="5.6"/>
<rect x="437.45" y="501.7" width="5.6" height="5.6"/>
<rect x="434.45" y="507.2" width="5.6" height="5.6"/>
<rect x="434.45" y="517.2" width="5.6" height="5.6"/>
<line x1="430.5" y1="493.75" x2="444" y2="493.75" stroke="#000" stroke-width="1.35" stroke-linecap="butt"/>
<line x1="437.25" y1="478.25" x2="437.25" y2="508.75" stroke="#000" stroke-width="1.35" stroke-linecap="butt"/>
<line x1="433.25" y1="478.25" x2="441.25" y2="478.25" stroke="#000" stroke-width="1.35" stroke-linecap="butt"/>
<line x1="433.25" y1="508.75" x2="441.25" y2="508.75" stroke="#000" stroke-width="1.35" stroke-linecap="butt"/>
<path d="M451.55 478L457.45 478L454.5 472.6Z"/>
<path d="M458.75 477.4L464.65 477.4L461.7 472Z"/>
<path d="M458.75 494.3L464.65 494.3L461.7 488.9Z"/>
<path d="M451.95 498.6L457.85 498.6L454.9 493.2Z"/>
<path d="M457.75 505.3L463.65 505.3L460.7 499.9Z"/>
<path d="M455.85 515.9L461.75 515.9L458.8 510.5Z"/>
<path d="M452.95 524.6L458.85 524.6L455.9 519.2Z"/>
<path d="M458.75 525.6L464.65 525.6L461.7 520.2Z"/>
<path d="M454.85 527.5L460.75 527.5L457.8 522.1Z"/>
<line x1="451.5" y1="500.5" x2="465" y2="500.5" stroke="#000" stroke-width="1.35" stroke-linecap="butt"/>
<line x1="458.25" y1="482.5" x2="458.25" y2="519.5" stroke="#000" stroke-width="1.35" stroke-linecap="butt"/>
<line x1="454.25" y1="482.5" x2="462.25" y2="482.5" stroke="#000" stroke-width="1.35" stroke-linecap="butt"/>
<line x1="454.25" y1="519.5" x2="462.25" y2="519.5" stroke="#000" stroke-width="1.35" stroke-linecap="butt"/>
<path d="M473.2 537.6L479.2 537.6L476.2 543.2Z"/>
<path d="M478.4 537.6L484.4 537.6L481.4 543.2Z"/>
<path d="M475.8 538.7L481.8 538.7L478.8 544.3Z"/>
<path d="M471.6 544.8L477.6 544.8L474.6 550.4Z"/>
<path d="M475.8 544.4L481.8 544.4L478.8 550Z"/>
<path d="M480 544.8L486 544.8L483 550.4Z"/>
<path d="M473.5 546.2L479.5 546.2L476.5 551.8Z"/>
<path d="M478 546.2L484 546.2L481 551.8Z"/>
<path d="M474.4 550.4L480.4 550.4L477.4 556Z"/>
<path d="M493.2 556.6L496.4 553.4L499.6 556.6L496.4 559.8Z"/>
<path d="M496.8 555.6L500 552.4L503.2 555.6L500 558.8Z"/>
<path d="M500.6 556.6L503.8 553.4L507 556.6L503.8 559.8Z"/>
<path d="M495.2 559.4L498.4 556.2L501.6 559.4L498.4 562.6Z"/>
<path d="M498.8 559L502 555.8L505.2 559L502 562.2Z"/>
<path d="M496.4 562.2L499.6 559L502.8 562.2L499.6 565.4Z"/>
<path d="M496.8 558L500 554.8L503.2 558L500 561.2Z"/>
<line x1="417.1" y1="452.2" x2="458.5" y2="452.2" stroke="#4a4a4a" stroke-width="1.1" stroke-linecap="butt"/>
<polygon points="437.15,446.7 436.5,448.21 434.87,448.36 436.1,449.44 435.74,451.04 437.15,450.2 438.56,451.04 438.2,449.44 439.43,448.36 437.8,448.21" fill="#4a4a4a"/>
<polygon points="442.05,446.7 441.4,448.21 439.77,448.36 441,449.44 440.64,451.04 442.05,450.2 443.46,451.04 443.1,449.44 444.33,448.36 442.7,448.21" fill="#4a4a4a"/>
<line x1="438.4" y1="459.6" x2="459.5" y2="459.6" stroke="#4a4a4a" stroke-width="1.1" stroke-linecap="butt"/>
<text transform="translate(451.8 459.2) scale(1.0296 1)" font-size="9.4" text-anchor="middle" fill="#4a4a4a">n.s.</text>
<line x1="416.5" y1="462.1" x2="437.6" y2="462.1" stroke="#4a4a4a" stroke-width="1.1" stroke-linecap="butt"/>
<polygon points="423,456.6 422.35,458.11 420.72,458.26 421.95,459.34 421.59,460.94 423,460.1 424.41,460.94 424.05,459.34 425.28,458.26 423.65,458.11" fill="#4a4a4a"/>
<polygon points="427.9,456.6 427.25,458.11 425.62,458.26 426.85,459.34 426.49,460.94 427.9,460.1 429.31,460.94 428.95,459.34 430.18,458.26 428.55,458.11" fill="#4a4a4a"/>
<polygon points="432.8,456.6 432.15,458.11 430.52,458.26 431.75,459.34 431.39,460.94 432.8,460.1 434.21,460.94 433.85,459.34 435.08,458.26 433.45,458.11" fill="#4a4a4a"/>
<polygon points="476.6,529.6 475.95,531.11 474.32,531.26 475.55,532.34 475.19,533.94 476.6,533.1 478.01,533.94 477.65,532.34 478.88,531.26 477.25,531.11" fill="#333"/>
<polygon points="482,529.6 481.35,531.11 479.72,531.26 480.95,532.34 480.59,533.94 482,533.1 483.41,533.94 483.05,532.34 484.28,531.26 482.65,531.11" fill="#333"/>
<polygon points="494.75,546 494.1,547.51 492.47,547.66 493.7,548.74 493.34,550.34 494.75,549.5 496.16,550.34 495.8,548.74 497.03,547.66 495.4,547.51" fill="#333"/>
<polygon points="499.8,546 499.15,547.51 497.52,547.66 498.75,548.74 498.39,550.34 499.8,549.5 501.21,550.34 500.85,548.74 502.08,547.66 500.45,547.51" fill="#333"/>
<polygon points="504.85,546 504.2,547.51 502.57,547.66 503.8,548.74 503.44,550.34 504.85,549.5 506.26,550.34 505.9,548.74 507.13,547.66 505.5,547.51" fill="#333"/>
<text transform="translate(418.7 591.4) rotate(-45)" font-size="10.2" text-anchor="end" fill="#151515" style="stroke:#151515;stroke-width:0.15px">Control</text>
<text transform="translate(439.95 591.4) rotate(-45)" font-size="10.2" text-anchor="end" fill="#151515" style="stroke:#151515;stroke-width:0.15px">100 MTA</text>
<text transform="translate(461.2 591.4) rotate(-45)" font-size="10.2" text-anchor="end" fill="#151515" style="stroke:#151515;stroke-width:0.15px">200 MTA</text>
<text transform="translate(482.2 591.4) rotate(-45)" font-size="10.2" text-anchor="end" fill="#151515" style="stroke:#151515;stroke-width:0.15px">IL4/IL 13</text>
<text transform="translate(503.2 591.4) rotate(-45)" font-size="10.2" text-anchor="end" fill="#151515" style="stroke:#151515;stroke-width:0.15px">IFNy</text>
</g>
<text transform="translate(525.8 437.8) scale(0.87 1)" font-size="14.8" text-anchor="start" fill="#111" stroke="#111" stroke-width="0.2">K</text>
<line x1="582.1" y1="443.25" x2="582.1" y2="579.05" stroke="#000" stroke-width="1.4" stroke-linecap="butt"/>
<line x1="581.4" y1="578.35" x2="666" y2="578.35" stroke="#000" stroke-width="1.4" stroke-linecap="butt"/>
<line x1="578.5" y1="443.95" x2="582.1" y2="443.95" stroke="#000" stroke-width="1.4" stroke-linecap="butt"/>
<text transform="translate(576.9 447.5)" font-size="10" text-anchor="end" fill="#151515" style="stroke:#151515;stroke-width:0.15px">0.6</text>
<line x1="578.5" y1="470.85" x2="582.1" y2="470.85" stroke="#000" stroke-width="1.4" stroke-linecap="butt"/>
<text transform="translate(576.9 474.4)" font-size="10" text-anchor="end" fill="#151515" style="stroke:#151515;stroke-width:0.15px">0.4</text>
<line x1="578.5" y1="497.75" x2="582.1" y2="497.75" stroke="#000" stroke-width="1.4" stroke-linecap="butt"/>
<text transform="translate(576.9 501.3)" font-size="10" text-anchor="end" fill="#151515" style="stroke:#151515;stroke-width:0.15px">0.2</text>
<line x1="578.5" y1="524.6" x2="582.1" y2="524.6" stroke="#000" stroke-width="1.4" stroke-linecap="butt"/>
<text transform="translate(576.9 528.15)" font-size="10" text-anchor="end" fill="#151515" style="stroke:#151515;stroke-width:0.15px">0.0</text>
<line x1="578.5" y1="551.5" x2="582.1" y2="551.5" stroke="#000" stroke-width="1.4" stroke-linecap="butt"/>
<text transform="translate(576.9 555.05)" font-size="10" text-anchor="end" fill="#151515" style="stroke:#151515;stroke-width:0.15px">-0.2</text>
<line x1="578.5" y1="578.35" x2="582.1" y2="578.35" stroke="#000" stroke-width="1.4" stroke-linecap="butt"/>
<text transform="translate(576.9 581.9)" font-size="10" text-anchor="end" fill="#151515" style="stroke:#151515;stroke-width:0.15px">-0.4</text>
<line x1="605.5" y1="578.35" x2="605.5" y2="582.35" stroke="#000" stroke-width="1.4" stroke-linecap="butt"/>
<line x1="641.5" y1="578.35" x2="641.5" y2="582.35" stroke="#000" stroke-width="1.4" stroke-linecap="butt"/>
<text transform="translate(553.9 509.9) rotate(-90) scale(1.0044 1)" font-size="11" text-anchor="middle" fill="#151515" stroke="#151515" stroke-width="0.15"><tspan font-style="italic">VEGFA</tspan> Expression (z-score)</text>
<line x1="605.6" y1="455.5" x2="605.6" y2="506.25" stroke="#000" stroke-width="1.35" stroke-linecap="butt"/>
<line x1="602.7" y1="455.5" x2="608.5" y2="455.5" stroke="#000" stroke-width="1.35" stroke-linecap="butt"/>
<line x1="602.7" y1="506.25" x2="608.5" y2="506.25" stroke="#000" stroke-width="1.35" stroke-linecap="butt"/>
<circle cx="605.6" cy="480.9" r="2.8"/>
<line x1="641.3" y1="500" x2="641.3" y2="553.25" stroke="#000" stroke-width="1.35" stroke-linecap="butt"/>
<line x1="638.4" y1="500" x2="644.2" y2="500" stroke="#000" stroke-width="1.35" stroke-linecap="butt"/>
<line x1="638.4" y1="553.25" x2="644.2" y2="553.25" stroke="#000" stroke-width="1.35" stroke-linecap="butt"/>
<rect x="638.7" y="524.4" width="5.2" height="5.2"/>
<line x1="604.75" y1="440.5" x2="642.75" y2="440.5" stroke="#222" stroke-width="1.0" stroke-linecap="butt"/>
<polygon points="623.75,435 623.1,436.51 621.47,436.66 622.7,437.74 622.34,439.34 623.75,438.5 625.16,439.34 624.8,437.74 626.03,436.66 624.4,436.51" fill="#222"/>
<text transform="translate(605.5 593.2)" font-size="10.4" text-anchor="middle" fill="#151515" style="stroke:#151515;stroke-width:0.15px">Low</text>
<text transform="translate(605.5 604.6)" font-size="10.4" text-anchor="middle" fill="#151515" style="stroke:#151515;stroke-width:0.15px">MTAP</text>
<text transform="translate(641.5 593.2)" font-size="10.4" text-anchor="middle" fill="#151515" style="stroke:#151515;stroke-width:0.15px">High</text>
<text transform="translate(641.5 604.6)" font-size="10.4" text-anchor="middle" fill="#151515" style="stroke:#151515;stroke-width:0.15px">MTAP</text>
</g>
<text transform="translate(374.3 221.6) scale(0.87 1)" font-size="14.8" text-anchor="start" fill="#111" stroke="#111" stroke-width="0.2">G</text>
<defs>
<filter id="b1" x="-30%" y="-120%" width="160%" height="340%"><feGaussianBlur stdDeviation="1.1 0.9"/></filter>
<filter id="b2" x="-30%" y="-120%" width="160%" height="340%"><feGaussianBlur stdDeviation="1.6 1.2"/></filter>
<filter id="noise" x="0" y="0" width="100%" height="100%">
<feTurbulence type="fractalNoise" baseFrequency="0.55" numOctaves="2" seed="7" result="n"/>
<feColorMatrix in="n" type="matrix" values="0 0 0 0 0  0 0 0 0 0  0 0 0 0 0  0.9 0.9 0 0 -0.78"/>
</filter>
<linearGradient id="gbg2" x1="0" x2="1" y1="0" y2="0"><stop offset="0" stop-color="#cfcfcf"/><stop offset="0.2" stop-color="#dcdcdc"/><stop offset="0.5" stop-color="#ebebeb"/><stop offset="1" stop-color="#ededed"/></linearGradient>
<clipPath id="c1"><rect x="433.5" y="294.3" width="156" height="25.6"/></clipPath>
<clipPath id="c2"><rect x="433.5" y="327.6" width="156" height="26.3"/></clipPath>
<clipPath id="c3"><rect x="599.6" y="294.4" width="67" height="25.9"/></clipPath>
<clipPath id="c4"><rect x="599.6" y="327.8" width="67" height="26.3"/></clipPath>
</defs>
<rect x="433.5" y="294.3" width="156" height="25.6" fill="#f1f1f1"/>
<rect x="433.5" y="294.3" width="156" height="25.6" fill="#777" filter="url(#noise)" opacity="0.16"/>
<rect x="433.5" y="327.6" width="156" height="26.3" fill="url(#gbg2)"/>
<rect x="599.6" y="294.4" width="67" height="25.9" fill="#f3f3f3"/>
<rect x="599.6" y="327.8" width="67" height="26.3" fill="#ededed"/>
<g clip-path="url(#c1)"><rect x="471.5" y="308.8" width="21.5" height="3.4" rx="1.7" fill="#000" opacity="0.95" filter="url(#b1)" transform="rotate(-2 482.25 310.5)"/></g>
<g clip-path="url(#c1)"><rect x="514.5" y="308.1" width="5.5" height="3" rx="1.5" fill="#000" opacity="0.7" filter="url(#b1)"/></g>
<g clip-path="url(#c1)"><rect x="515" y="307.8" width="22" height="2.2" rx="1.1" fill="#000" opacity="0.62" filter="url(#b1)" transform="rotate(-4 526 308.9)"/></g>
<g clip-path="url(#c1)"><rect x="536.5" y="305.9" width="22.5" height="4.2" rx="2.1" fill="#000" opacity="0.97" filter="url(#b1)"/></g>
<g clip-path="url(#c1)"><rect x="560.5" y="304.9" width="22.5" height="5.8" rx="2.9" fill="#000" opacity="1" filter="url(#b1)"/></g>
<g clip-path="url(#c1)"><rect x="563" y="306" width="18" height="3.6" rx="1.8" fill="#000" opacity="0.9" filter="url(#b1)"/></g>
<g clip-path="url(#c2)"><path d="M447.2,342.3 C447.2,337.3 451,335.9 456.5,336.1 C462.5,336.3 468.3,339.6 470.2,342.7 C468.3,346.2 462.5,348.7 456.5,348.8 C451,348.9 447.2,347.3 447.2,342.3 Z" fill="#000" filter="url(#b1)"/><path d="M449,342.3 C449,338.6 452,337.6 456.5,337.8 C461.5,338 466,340.4 467.6,342.7 C466,345.2 461.5,347 456.5,347.1 C452,347.2 449,346 449,342.3 Z" fill="#000"/></g>
<g clip-path="url(#c2)"><rect x="471.5" y="342.3" width="19.5" height="1.8" rx="0.9" fill="#000" opacity="0.45" filter="url(#b1)"/></g>
<g clip-path="url(#c2)"><rect x="471.5" y="341.9" width="3.5" height="2.6" rx="1.3" fill="#000" opacity="0.5" filter="url(#b1)"/></g>
<g clip-path="url(#c2)"><rect x="491" y="340.7" width="21.5" height="3.6" rx="1.8" fill="#000" opacity="0.95" filter="url(#b1)"/></g>
<g clip-path="url(#c2)"><rect x="490.5" y="339.6" width="6" height="5.8" rx="2.9" fill="#000" opacity="0.9" filter="url(#b1)"/></g>
<g clip-path="url(#c2)"><rect x="513" y="340.8" width="23.5" height="3.6" rx="1.8" fill="#000" opacity="0.95" filter="url(#b1)"/></g>
<g clip-path="url(#c2)"><rect x="513" y="340" width="6.5" height="5.6" rx="2.8" fill="#000" opacity="0.9" filter="url(#b1)"/></g>
<g clip-path="url(#c2)"><rect x="539.5" y="341.7" width="18.5" height="2.6" rx="1.3" fill="#000" opacity="0.8" filter="url(#b1)"/></g>
<g clip-path="url(#c2)"><rect x="562" y="341.2" width="19.5" height="3.6" rx="1.8" fill="#000" opacity="0.95" filter="url(#b1)"/></g>
<g clip-path="url(#c3)"><rect x="607.5" y="306.9" width="19" height="2.6" rx="1.3" fill="#000" opacity="0.6" filter="url(#b1)" transform="rotate(-1 617 308.2)"/></g>
<g clip-path="url(#c3)"><rect x="607.5" y="306.8" width="5.5" height="3.2" rx="1.6" fill="#000" opacity="0.7" filter="url(#b1)"/></g>
<g clip-path="url(#c3)"><rect x="637.5" y="305.1" width="21.5" height="3.6" rx="1.8" fill="#000" opacity="0.95" filter="url(#b1)" transform="rotate(-6 648.25 306.9)"/></g>
<g clip-path="url(#c3)"><rect x="638" y="305.9" width="12" height="3.6" rx="1.8" fill="#000" opacity="0.6" filter="url(#b1)" transform="rotate(-4 644 307.7)"/></g>
<g clip-path="url(#c4)"><path d="M606,342 Q606,339 609,339 L628,339 Q631,339 631,342 C629.5,346.2 623.5,347.9 618.5,347.9 C613.5,347.9 607.5,346.2 606,342 Z" fill="#000" filter="url(#b1)"/></g>
<g clip-path="url(#c4)"><path d="M630,342 Q630,339 633,339 L656,339 Q659,339 659,342 C657.5,346.2 649.5,347.9 644.5,347.9 C639.5,347.9 631.5,346.2 630,342 Z" fill="#000" filter="url(#b1)"/></g>
<rect x="433.5" y="294.3" width="156" height="25.6" fill="none" stroke="#4a4a4a" stroke-width="0.9"/>
<rect x="433.5" y="327.6" width="156" height="26.3" fill="none" stroke="#4a4a4a" stroke-width="0.9"/>
<rect x="599.6" y="294.4" width="67" height="25.9" fill="none" stroke="#4a4a4a" stroke-width="0.9"/>
<rect x="599.6" y="327.8" width="67" height="26.3" fill="none" stroke="#4a4a4a" stroke-width="0.9"/>
<text transform="translate(375.6 312.9) scale(0.8535 1)" font-size="12.4" text-anchor="start" fill="#1c1c1c" style="stroke:#1c1c1c;stroke-width:0.25px">Arginase 1</text>
<text transform="translate(377.2 346.9) scale(0.8810 1)" font-size="12.4" text-anchor="start" fill="#1c1c1c" style="stroke:#1c1c1c;stroke-width:0.25px">Beta-Actin</text>
<text transform="translate(459.3 282.8) rotate(-90) scale(1.0802 1)" font-size="12" text-anchor="start" fill="#1c1c1c" style="stroke:#151515;stroke-width:0.15px">spleen</text>
<text transform="translate(483.8 282.5) rotate(-90) scale(1.1453 1)" font-size="12" text-anchor="start" fill="#1c1c1c" style="stroke:#151515;stroke-width:0.15px">liver</text>
<text transform="translate(535.6 249.3) scale(0.7848 1)" font-size="13.6" text-anchor="middle" fill="#1c1c1c" style="stroke:#151515;stroke-width:0.15px">RAW 264.7 cells</text>
<text transform="translate(632.3 249.3) scale(0.7612 1)" font-size="13.6" text-anchor="middle" fill="#1c1c1c" style="stroke:#151515;stroke-width:0.15px">THP-1 cells</text>
<text transform="translate(505.2 263.4) scale(0.8166 1)" font-size="10" text-anchor="middle" fill="#1c1c1c" style="stroke:#1c1c1c;stroke-width:0.25px">DMSO</text>
<text transform="translate(550 263.4) scale(0.8347 1)" font-size="10" text-anchor="middle" fill="#1c1c1c" style="stroke:#1c1c1c;stroke-width:0.25px">MTA</text>
<text transform="translate(616.6 263.4) scale(0.8000 1)" font-size="10" text-anchor="middle" fill="#1c1c1c" style="stroke:#1c1c1c;stroke-width:0.25px">DMSO</text>
<text transform="translate(647.9 263.4) scale(0.8445 1)" font-size="10" text-anchor="middle" fill="#1c1c1c" style="stroke:#1c1c1c;stroke-width:0.25px">MTA</text>
<line x1="491.25" y1="266.9" x2="518" y2="266.9" stroke="#333" stroke-width="1.4" stroke-linecap="butt"/>
<line x1="521.25" y1="266.9" x2="580" y2="266.9" stroke="#333" stroke-width="1.4" stroke-linecap="butt"/>
<line x1="603.5" y1="266.9" x2="629.75" y2="266.9" stroke="#333" stroke-width="1.4" stroke-linecap="butt"/>
<line x1="636" y1="266.9" x2="661" y2="266.9" stroke="#333" stroke-width="1.4" stroke-linecap="butt"/>
<text transform="translate(504.25 282.4) scale(0.8009 1)" font-size="11" text-anchor="middle" fill="#1c1c1c" style="stroke:#151515;stroke-width:0.15px">3d</text>
<text transform="translate(527.5 282.4) scale(0.8009 1)" font-size="11" text-anchor="middle" fill="#1c1c1c" style="stroke:#151515;stroke-width:0.15px">1d</text>
<text transform="translate(550 282.4) scale(0.8009 1)" font-size="11" text-anchor="middle" fill="#1c1c1c" style="stroke:#151515;stroke-width:0.15px">2d</text>
<text transform="translate(572.5 282.4) scale(0.8009 1)" font-size="11" text-anchor="middle" fill="#1c1c1c" style="stroke:#151515;stroke-width:0.15px">3d</text>
<text transform="translate(614.75 282.4) scale(0.8009 1)" font-size="11" text-anchor="middle" fill="#1c1c1c" style="stroke:#151515;stroke-width:0.15px">1d</text>
<text transform="translate(648.5 282.4) scale(0.8009 1)" font-size="11" text-anchor="middle" fill="#1c1c1c" style="stroke:#151515;stroke-width:0.15px">1d</text>
</svg>
</body></html>
